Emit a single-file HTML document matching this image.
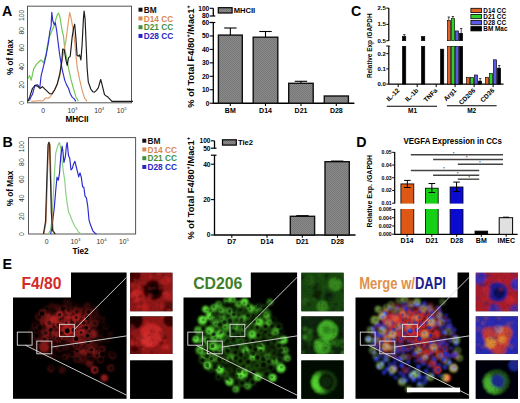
<!DOCTYPE html>
<html><head><meta charset="utf-8"><style>
html,body{margin:0;padding:0;background:#fff;}
body{width:520px;height:403px;overflow:hidden;}
svg{display:block;font-family:"Liberation Sans", sans-serif;}
</style></head><body>
<svg width="520" height="403" viewBox="0 0 520 403">
<rect width="520" height="403" fill="#fff"/>
<text x="1.9" y="15.6" font-size="14.2" font-weight="bold" fill="#000" text-anchor="start" >A</text>
<text x="2.6" y="146.7" font-size="14.2" font-weight="bold" fill="#000" text-anchor="start" >B</text>
<text x="351.0" y="16.0" font-size="14.2" font-weight="bold" fill="#000" text-anchor="start" >C</text>
<text x="356.3" y="147" font-size="14.2" font-weight="bold" fill="#000" text-anchor="start" >D</text>
<text x="2.6" y="269.1" font-size="14.2" font-weight="bold" fill="#000" text-anchor="start" >E</text>
<rect x="27.5" y="6.2" width="104.0" height="96.6" fill="none" stroke="#555" stroke-width="1" />
<text transform="translate(24.3,102.8) rotate(-90)" font-size="6.8"  fill="#333" text-anchor="middle" >0</text>
<text transform="translate(24.3,84.8) rotate(-90)" font-size="6.8"  fill="#333" text-anchor="middle" >20</text>
<text transform="translate(24.3,66.8) rotate(-90)" font-size="6.8"  fill="#333" text-anchor="middle" >40</text>
<text transform="translate(24.3,47.8) rotate(-90)" font-size="6.8"  fill="#333" text-anchor="middle" >60</text>
<text transform="translate(24.3,30.700000000000003) rotate(-90)" font-size="6.8"  fill="#333" text-anchor="middle" >80</text>
<text transform="translate(24.3,15.299999999999997) rotate(-90)" font-size="6.8"  fill="#333" text-anchor="middle" >100</text>
<text transform="translate(13.1,57.2) rotate(-90)" font-size="8.2" font-weight="bold" fill="#000" text-anchor="middle" >% of Max</text>
<text x="43.1" y="112.6" font-size="6.8"  fill="#333" text-anchor="middle" >0</text>
<text x="67.4" y="112.6" font-size="6.8" fill="#333">10<tspan font-size="4.3" dy="-2.7">3</tspan></text>
<text x="94.2" y="112.6" font-size="6.8" fill="#333">10<tspan font-size="4.3" dy="-2.7">4</tspan></text>
<text x="116.7" y="112.6" font-size="6.8" fill="#333">10<tspan font-size="4.3" dy="-2.7">5</tspan></text>
<text x="77" y="122.4" font-size="8.2" font-weight="bold" fill="#000" text-anchor="middle" >MHCII</text>
<polyline points="28.0,78.5 29.5,75.4 31.2,80.2 33.7,68.9 36.2,64.6 38.7,62.0 41.1,60.0 43.6,62.9 46.1,53.6 48.6,38.5 49.8,35.7 52.3,29.7 54.3,25.5 56.0,18.6 57.3,14.8 58.5,13.0 59.8,16.7 61.0,23.5 62.2,30.9 63.5,36.1 64.7,48.5 66.0,54.8 68.5,68.2 70.9,79.2 73.4,88.7 75.9,96.7 78.4,101.3" fill="none" stroke="#6cc850" stroke-width="1.15" stroke-linejoin="round"/>
<polyline points="31.2,101.3 32.7,101.2 34.1,101.1 35.6,101.0 37.0,100.9 38.5,100.7 39.9,100.6 41.6,101.0 43.2,100.6 44.9,98.6 46.5,97.8 48.2,98.3 49.8,97.3 51.5,94.7 53.1,91.6 54.8,89.6 56.5,85.5 58.1,81.3 59.8,76.4 62.2,59.5 64.7,47.0 66.0,40.2 67.2,30.7 68.5,20.7 69.7,12.5 70.9,17.3 72.2,24.4 73.4,31.5 74.7,41.4 75.9,54.6 77.1,66.8 79.6,79.3 82.1,90.1 84.6,98.2 87.1,101.3" fill="none" stroke="#e09a68" stroke-width="1.15" stroke-linejoin="round"/>
<polyline points="29.5,100.6 31.0,96.8 32.4,94.5 34.9,85.4 37.4,84.7 39.9,87.3 41.1,75.9 43.6,65.8 46.1,55.5 48.6,41.6 49.8,31.6 51.1,26.2 51.8,12.4 52.8,20.8 54.3,24.8 55.3,22.7 56.8,31.4 57.8,40.1 59.8,55.6 62.2,69.6 64.7,80.1 66.6,84.9 68.5,88.3 70.3,93.8 72.2,97.1 74.0,98.6 75.9,101.3" fill="none" stroke="#2e2ed0" stroke-width="1.15" stroke-linejoin="round"/>
<polyline points="28.0,101.3 30.0,96.2 32.4,88.5 34.9,85.5 37.4,86.1 39.9,88.4 42.4,86.7 44.9,89.2 47.3,91.4 49.8,93.8 52.3,93.7 54.8,89.5 57.3,83.9 59.8,73.7 61.8,61.2 62.7,49.0 64.2,49.5 66.0,60.4 67.2,65.3 68.5,57.9 70.2,56.4 72.2,36.8 73.7,27.7 74.7,24.2 75.9,38.1 77.1,55.6 78.4,56.2 79.6,54.9 80.9,60.0 82.1,44.7 83.4,19.1 84.1,11.1 85.1,18.9 86.1,43.3 87.1,68.0 88.3,82.1 90.8,89.0 92.7,91.7 94.5,92.1 96.4,90.3 98.3,87.8 100.7,79.5 102.0,84.3 104.5,94.6 106.3,96.1 108.2,97.3 110.1,99.3 111.9,101.3 113.2,101.3 114.6,101.3 115.9,101.3 117.2,101.3 118.5,101.3 119.8,101.3 121.1,101.3 122.5,101.3 123.8,101.3 125.1,101.3 126.4,101.3 127.7,101.3 129.1,101.3 130.4,101.3 131.7,101.3 133.0,101.3" fill="none" stroke="#1a1a1a" stroke-width="1.15" stroke-linejoin="round"/>
<rect x="138.5" y="7.700000000000001" width="4" height="4" fill="#111" stroke="none" stroke-width="1" />
<text x="143.7" y="12.8" font-size="8.3" font-weight="bold" fill="#111" text-anchor="start" >BM</text>
<rect x="138.5" y="16.45" width="4" height="4" fill="#d98850" stroke="none" stroke-width="1" />
<text x="143.7" y="21.55" font-size="8.3" font-weight="bold" fill="#d98850" text-anchor="start" >D14 CC</text>
<rect x="138.5" y="25.2" width="4" height="4" fill="#3f8f3f" stroke="none" stroke-width="1" />
<text x="143.7" y="30.3" font-size="8.3" font-weight="bold" fill="#3f8f3f" text-anchor="start" >D21 CC</text>
<rect x="138.5" y="33.949999999999996" width="4" height="4" fill="#2626c8" stroke="none" stroke-width="1" />
<text x="143.7" y="39.05" font-size="8.3" font-weight="bold" fill="#2626c8" text-anchor="start" >D28 CC</text>
<rect x="28.5" y="137.6" width="107.1" height="96.4" fill="none" stroke="#555" stroke-width="1" />
<text transform="translate(24.3,234.2) rotate(-90)" font-size="6.8"  fill="#333" text-anchor="middle" >0</text>
<text transform="translate(24.3,216.2) rotate(-90)" font-size="6.8"  fill="#333" text-anchor="middle" >20</text>
<text transform="translate(24.3,198.2) rotate(-90)" font-size="6.8"  fill="#333" text-anchor="middle" >40</text>
<text transform="translate(24.3,179.2) rotate(-90)" font-size="6.8"  fill="#333" text-anchor="middle" >60</text>
<text transform="translate(24.3,162.1) rotate(-90)" font-size="6.8"  fill="#333" text-anchor="middle" >80</text>
<text transform="translate(24.3,146.7) rotate(-90)" font-size="6.8"  fill="#333" text-anchor="middle" >100</text>
<text transform="translate(13.1,188.5) rotate(-90)" font-size="8.2" font-weight="bold" fill="#000" text-anchor="middle" >% of Max</text>
<text x="46.6" y="243.8" font-size="6.8"  fill="#333" text-anchor="middle" >0</text>
<text x="70.4" y="243.8" font-size="6.8" fill="#333">10<tspan font-size="4.3" dy="-2.7">3</tspan></text>
<text x="96.6" y="243.8" font-size="6.8" fill="#333">10<tspan font-size="4.3" dy="-2.7">4</tspan></text>
<text x="118.9" y="243.8" font-size="6.8" fill="#333">10<tspan font-size="4.3" dy="-2.7">5</tspan></text>
<text x="80.5" y="253.6" font-size="8.2" font-weight="bold" fill="#000" text-anchor="middle" >Tie2</text>
<polyline points="48.0,234.0 50.6,229.9 51.9,219.9 53.1,199.5 54.4,174.3 55.7,153.4 57.0,148.6 58.3,144.3 59.5,142.6 60.8,148.7 62.1,160.9 63.4,171.6 64.7,180.3 65.9,193.8 67.2,203.6 68.5,211.8 69.8,214.5 72.3,221.0 74.9,226.5 76.8,229.2 78.7,232.2 81.3,234.0" fill="none" stroke="#88d080" stroke-width="1.15" stroke-linejoin="round"/>
<polyline points="50.6,234.0 51.9,227.9 53.1,217.7 54.4,206.6 55.7,190.7 57.0,177.2 58.3,180.2 59.5,173.3 60.8,156.1 62.1,146.2 62.9,151.1 63.9,162.5 65.4,156.3 66.4,145.8 67.2,142.5 68.5,155.6 69.8,158.5 71.0,170.0 72.3,168.4 73.6,163.9 74.9,161.3 76.2,166.5 77.4,171.3 78.7,176.8 80.0,172.9 81.3,177.4 82.6,186.9 83.8,187.0 85.1,196.3 86.4,197.9 87.7,205.8 89.0,219.8 90.2,224.0 92.8,230.8 95.4,233.5 96.6,234.0" fill="none" stroke="#2828d0" stroke-width="1.15" stroke-linejoin="round"/>
<polyline points="43.9,234.0 46.0,221.8 47.5,173.0 48.5,145.4 49.3,142.2 50.1,145.3 50.8,173.2 51.9,211.3 53.1,230.9 55.7,234.0" fill="none" stroke="#c07848" stroke-width="1.15" stroke-linejoin="round"/>
<polyline points="43.4,234.0 45.5,221.7 47.0,173.8 48.0,144.9 48.8,142.4 49.6,144.8 50.3,173.1 51.3,212.2 52.6,230.6 55.2,234.0" fill="none" stroke="#2a2a2a" stroke-width="1.15" stroke-linejoin="round"/>
<rect x="142.3" y="138.70000000000002" width="4" height="4" fill="#111" stroke="none" stroke-width="1" />
<text x="147.5" y="143.8" font-size="8.3" font-weight="bold" fill="#111" text-anchor="start" >BM</text>
<rect x="142.3" y="147.45000000000002" width="4" height="4" fill="#d98850" stroke="none" stroke-width="1" />
<text x="147.5" y="152.55" font-size="8.3" font-weight="bold" fill="#d98850" text-anchor="start" >D14 CC</text>
<rect x="142.3" y="156.20000000000002" width="4" height="4" fill="#3f8f3f" stroke="none" stroke-width="1" />
<text x="147.5" y="161.3" font-size="8.3" font-weight="bold" fill="#3f8f3f" text-anchor="start" >D21 CC</text>
<rect x="142.3" y="164.95000000000002" width="4" height="4" fill="#2626c8" stroke="none" stroke-width="1" />
<text x="147.5" y="170.05" font-size="8.3" font-weight="bold" fill="#2626c8" text-anchor="start" >D28 CC</text>
<defs><pattern id="hatch" width="2" height="2" patternUnits="userSpaceOnUse"><rect width="2" height="2" fill="#8a8a8a"/><rect width="1" height="1" fill="#777"/><rect x="1" y="1" width="1" height="1" fill="#777"/></pattern></defs>
<line x1="213.3" y1="22.5" x2="213.3" y2="103.7" stroke="#000" stroke-width="1.3"/>
<line x1="209.70000000000002" y1="22.5" x2="215.3" y2="22.5" stroke="#000" stroke-width="1.2"/>
<line x1="209.70000000000002" y1="103.2" x2="213.3" y2="103.2" stroke="#000" stroke-width="1.1"/>
<text x="209.3" y="105.5" font-size="6.6" font-weight="bold" fill="#000" text-anchor="end" >0</text>
<line x1="209.70000000000002" y1="89.75" x2="213.3" y2="89.75" stroke="#000" stroke-width="1.1"/>
<text x="209.3" y="92.05" font-size="6.6" font-weight="bold" fill="#000" text-anchor="end" >10</text>
<line x1="209.70000000000002" y1="76.30000000000001" x2="213.3" y2="76.30000000000001" stroke="#000" stroke-width="1.1"/>
<text x="209.3" y="78.60000000000001" font-size="6.6" font-weight="bold" fill="#000" text-anchor="end" >20</text>
<line x1="209.70000000000002" y1="62.85" x2="213.3" y2="62.85" stroke="#000" stroke-width="1.1"/>
<text x="209.3" y="65.15" font-size="6.6" font-weight="bold" fill="#000" text-anchor="end" >30</text>
<line x1="209.70000000000002" y1="49.400000000000006" x2="213.3" y2="49.400000000000006" stroke="#000" stroke-width="1.1"/>
<text x="209.3" y="51.7" font-size="6.6" font-weight="bold" fill="#000" text-anchor="end" >40</text>
<line x1="209.70000000000002" y1="35.95" x2="213.3" y2="35.95" stroke="#000" stroke-width="1.1"/>
<text x="209.3" y="38.25" font-size="6.6" font-weight="bold" fill="#000" text-anchor="end" >50</text>
<line x1="209.70000000000002" y1="22.5" x2="213.3" y2="22.5" stroke="#000" stroke-width="1.1"/>
<text x="209.3" y="24.8" font-size="6.6" font-weight="bold" fill="#000" text-anchor="end" >60</text>
<line x1="213.3" y1="8.3" x2="213.3" y2="16" stroke="#000" stroke-width="1.3"/>
<line x1="209.70000000000002" y1="8.3" x2="213.3" y2="8.3" stroke="#000" stroke-width="1.1"/>
<line x1="209.70000000000002" y1="16" x2="215.3" y2="16" stroke="#000" stroke-width="1.2"/>
<text x="209.3" y="10.600000000000001" font-size="6.6" font-weight="bold" fill="#000" text-anchor="end" >100</text>
<text x="209.3" y="18.3" font-size="6.6" font-weight="bold" fill="#000" text-anchor="end" >80</text>
<line x1="213.3" y1="103.2" x2="354.4" y2="103.2" stroke="#000" stroke-width="1.4"/>
<rect x="218.4" y="35.1" width="23.900000000000006" height="68.1" fill="url(#hatch)" stroke="#111" stroke-width="1.4" />
<line x1="230.35000000000002" y1="28" x2="230.35000000000002" y2="35.1" stroke="#000" stroke-width="1.1"/>
<line x1="224.15000000000003" y1="28" x2="236.55" y2="28" stroke="#000" stroke-width="1.1"/>
<rect x="253.2" y="37.2" width="24.600000000000023" height="66.0" fill="url(#hatch)" stroke="#111" stroke-width="1.4" />
<line x1="265.5" y1="31.5" x2="265.5" y2="37.2" stroke="#000" stroke-width="1.1"/>
<line x1="259.3" y1="31.5" x2="271.7" y2="31.5" stroke="#000" stroke-width="1.1"/>
<rect x="288.7" y="83.3" width="24.5" height="19.900000000000006" fill="url(#hatch)" stroke="#111" stroke-width="1.4" />
<line x1="300.95" y1="81.3" x2="300.95" y2="83.3" stroke="#000" stroke-width="1.1"/>
<line x1="294.75" y1="81.3" x2="307.15" y2="81.3" stroke="#000" stroke-width="1.1"/>
<rect x="324.3" y="96" width="24.099999999999966" height="7.200000000000003" fill="url(#hatch)" stroke="#111" stroke-width="1.4" />
<line x1="230.3" y1="103.2" x2="230.3" y2="106.0" stroke="#000" stroke-width="1.1"/>
<text x="230.3" y="112.5" font-size="7" font-weight="bold" fill="#000" text-anchor="middle" >BM</text>
<line x1="265.5" y1="103.2" x2="265.5" y2="106.0" stroke="#000" stroke-width="1.1"/>
<text x="265.5" y="112.5" font-size="7" font-weight="bold" fill="#000" text-anchor="middle" >D14</text>
<line x1="301" y1="103.2" x2="301" y2="106.0" stroke="#000" stroke-width="1.1"/>
<text x="301" y="112.5" font-size="7" font-weight="bold" fill="#000" text-anchor="middle" >D21</text>
<line x1="336.3" y1="103.2" x2="336.3" y2="106.0" stroke="#000" stroke-width="1.1"/>
<text x="336.3" y="112.5" font-size="7" font-weight="bold" fill="#000" text-anchor="middle" >D28</text>
<rect x="218.3" y="7.7" width="13.8" height="5.3" fill="url(#hatch)" stroke="#000" stroke-width="1.2" />
<text x="233.70000000000002" y="13.2" font-size="7.6" font-weight="bold" fill="#000" text-anchor="start" >MHCII</text>
<text transform="translate(193.9,107.7) rotate(-90)" font-size="9.3" font-weight="bold">% of Total F4/80<tspan font-size="5.5" dy="-3.5">+</tspan><tspan dy="3.5">/Mac1</tspan><tspan font-size="5.5" dy="-3.5">+</tspan></text>
<line x1="214.5" y1="155.2" x2="214.5" y2="235.5" stroke="#000" stroke-width="1.3"/>
<line x1="210.9" y1="155.2" x2="216.5" y2="155.2" stroke="#000" stroke-width="1.2"/>
<line x1="210.9" y1="235.0" x2="214.5" y2="235.0" stroke="#000" stroke-width="1.1"/>
<text x="210.5" y="237.3" font-size="6.6" font-weight="bold" fill="#000" text-anchor="end" >0</text>
<line x1="210.9" y1="199.6" x2="214.5" y2="199.6" stroke="#000" stroke-width="1.1"/>
<text x="210.5" y="201.9" font-size="6.6" font-weight="bold" fill="#000" text-anchor="end" >20</text>
<line x1="210.9" y1="164.2" x2="214.5" y2="164.2" stroke="#000" stroke-width="1.1"/>
<text x="210.5" y="166.5" font-size="6.6" font-weight="bold" fill="#000" text-anchor="end" >40</text>
<line x1="214.5" y1="140.8" x2="214.5" y2="148.2" stroke="#000" stroke-width="1.3"/>
<line x1="210.9" y1="140.8" x2="214.5" y2="140.8" stroke="#000" stroke-width="1.1"/>
<line x1="210.9" y1="148.2" x2="216.5" y2="148.2" stroke="#000" stroke-width="1.2"/>
<text x="210.5" y="143.10000000000002" font-size="6.6" font-weight="bold" fill="#000" text-anchor="end" >100</text>
<text x="210.5" y="150.5" font-size="6.6" font-weight="bold" fill="#000" text-anchor="end" >50</text>
<line x1="214.5" y1="235" x2="355.5" y2="235" stroke="#000" stroke-width="1.4"/>
<rect x="290.3" y="216.3" width="24.30000000000001" height="18.69999999999999" fill="url(#hatch)" stroke="#111" stroke-width="1.4" />
<line x1="302.45000000000005" y1="215.7" x2="302.45000000000005" y2="216.3" stroke="#000" stroke-width="1.1"/>
<line x1="296.25000000000006" y1="215.7" x2="308.65000000000003" y2="215.7" stroke="#000" stroke-width="1.1"/>
<rect x="325" y="161.7" width="24.30000000000001" height="73.30000000000001" fill="url(#hatch)" stroke="#111" stroke-width="1.4" />
<line x1="337.15" y1="161.1" x2="337.15" y2="161.7" stroke="#000" stroke-width="1.1"/>
<line x1="330.95" y1="161.1" x2="343.34999999999997" y2="161.1" stroke="#000" stroke-width="1.1"/>
<line x1="231.8" y1="235" x2="231.8" y2="237.8" stroke="#000" stroke-width="1.1"/>
<text x="231.8" y="244.3" font-size="7" font-weight="bold" fill="#000" text-anchor="middle" >D7</text>
<line x1="267" y1="235" x2="267" y2="237.8" stroke="#000" stroke-width="1.1"/>
<text x="267" y="244.3" font-size="7" font-weight="bold" fill="#000" text-anchor="middle" >D14</text>
<line x1="302.3" y1="235" x2="302.3" y2="237.8" stroke="#000" stroke-width="1.1"/>
<text x="302.3" y="244.3" font-size="7" font-weight="bold" fill="#000" text-anchor="middle" >D21</text>
<line x1="337.5" y1="235" x2="337.5" y2="237.8" stroke="#000" stroke-width="1.1"/>
<text x="337.5" y="244.3" font-size="7" font-weight="bold" fill="#000" text-anchor="middle" >D28</text>
<rect x="222.5" y="139.8" width="13.8" height="5.3" fill="url(#hatch)" stroke="#000" stroke-width="1.2" />
<text x="237.9" y="145.3" font-size="7.6" font-weight="bold" fill="#000" text-anchor="start" >Tie2</text>
<text transform="translate(193.9,239.5) rotate(-90)" font-size="9.3" font-weight="bold">% of Total F4/80<tspan font-size="5.5" dy="-3.5">+</tspan><tspan dy="3.5">/Mac1</tspan><tspan font-size="5.5" dy="-3.5">+</tspan></text>
<line x1="388.8" y1="8.1" x2="388.8" y2="40.9" stroke="#000" stroke-width="1.2"/>
<line x1="388.8" y1="46.0" x2="388.8" y2="84.6" stroke="#000" stroke-width="1.2"/>
<line x1="386.3" y1="8.100000000000001" x2="388.8" y2="8.100000000000001" stroke="#000" stroke-width="1"/>
<text x="385.8" y="10.100000000000001" font-size="6" font-weight="bold" fill="#000" text-anchor="end" >2.5</text>
<line x1="386.3" y1="24.400000000000002" x2="388.8" y2="24.400000000000002" stroke="#000" stroke-width="1"/>
<text x="385.8" y="26.400000000000002" font-size="6" font-weight="bold" fill="#000" text-anchor="end" >1.5</text>
<line x1="386.3" y1="40.7" x2="388.8" y2="40.7" stroke="#000" stroke-width="1"/>
<text x="385.8" y="42.7" font-size="6" font-weight="bold" fill="#000" text-anchor="end" >0.5</text>
<line x1="386.3" y1="53.69999999999999" x2="388.8" y2="53.69999999999999" stroke="#000" stroke-width="1"/>
<text x="385.8" y="55.69999999999999" font-size="6" font-weight="bold" fill="#000" text-anchor="end" >0.2</text>
<line x1="386.3" y1="68.89999999999999" x2="388.8" y2="68.89999999999999" stroke="#000" stroke-width="1"/>
<text x="385.8" y="70.89999999999999" font-size="6" font-weight="bold" fill="#000" text-anchor="end" >0.1</text>
<line x1="386.3" y1="84.1" x2="388.8" y2="84.1" stroke="#000" stroke-width="1"/>
<text x="385.8" y="86.1" font-size="6" font-weight="bold" fill="#000" text-anchor="end" >0.0</text>
<line x1="386.3" y1="46.0" x2="390.3" y2="46.0" stroke="#000" stroke-width="1"/>
<line x1="388.8" y1="84.1" x2="503.5" y2="84.1" stroke="#000" stroke-width="1.2"/>
<text transform="translate(371.5,45.8) rotate(-90)" font-size="6.4" font-weight="bold" fill="#000" text-anchor="middle" >Relative Exp /GAPDH</text>
<rect x="402.4" y="46.2" width="3.4" height="37.89999999999999" fill="#000" stroke="#000" stroke-width="0.6" />
<rect x="402.4" y="36.462" width="3.4" height="4.2379999999999995" fill="#000" stroke="#000" stroke-width="0.6" />
<rect x="421.4" y="46.2" width="3.4" height="37.89999999999999" fill="#000" stroke="#000" stroke-width="0.6" />
<rect x="421.4" y="36.462" width="3.4" height="4.2379999999999995" fill="#000" stroke="#000" stroke-width="0.6" />
<rect x="440.4" y="49.13999999999999" width="3.4" height="34.96" fill="#000" stroke="#000" stroke-width="0.6" />
<rect x="447.3" y="46.2" width="3.4" height="37.89999999999999" fill="#e0642a" stroke="#000" stroke-width="0.6" />
<rect x="447.3" y="20.325000000000003" width="3.4" height="20.375" fill="#e0642a" stroke="#000" stroke-width="0.6" />
<rect x="451.3" y="46.2" width="3.4" height="37.89999999999999" fill="#2ed02e" stroke="#000" stroke-width="0.6" />
<rect x="451.3" y="18.695" width="3.4" height="22.005000000000003" fill="#2ed02e" stroke="#000" stroke-width="0.6" />
<rect x="455.3" y="46.2" width="3.4" height="37.89999999999999" fill="#5a5ae6" stroke="#000" stroke-width="0.6" />
<rect x="455.3" y="30.92" width="3.4" height="9.780000000000001" fill="#5a5ae6" stroke="#000" stroke-width="0.6" />
<rect x="459.3" y="46.2" width="3.4" height="37.89999999999999" fill="#000" stroke="#000" stroke-width="0.6" />
<rect x="459.3" y="33.365" width="3.4" height="7.335000000000001" fill="#000" stroke="#000" stroke-width="0.6" />
<rect x="466.3" y="77.25999999999999" width="3.4" height="6.840000000000003" fill="#e0642a" stroke="#000" stroke-width="0.6" />
<rect x="470.3" y="77.564" width="3.4" height="6.536000000000001" fill="#2ed02e" stroke="#000" stroke-width="0.6" />
<rect x="474.3" y="74.97999999999999" width="3.4" height="9.120000000000005" fill="#5a5ae6" stroke="#000" stroke-width="0.6" />
<rect x="478.3" y="81.05999999999999" width="3.4" height="3.0400000000000063" fill="#000" stroke="#000" stroke-width="0.6" />
<rect x="485.3" y="77.25999999999999" width="3.4" height="6.840000000000003" fill="#e0642a" stroke="#000" stroke-width="0.6" />
<rect x="489.3" y="73.46" width="3.4" height="10.64" fill="#2ed02e" stroke="#000" stroke-width="0.6" />
<rect x="493.3" y="59.779999999999994" width="3.4" height="24.32" fill="#5a5ae6" stroke="#000" stroke-width="0.6" />
<rect x="497.3" y="68.14" width="3.4" height="15.959999999999994" fill="#000" stroke="#000" stroke-width="0.6" />
<rect x="389.5" y="41.0" width="115" height="5.0" fill="#fff" stroke="none" stroke-width="1" />
<line x1="398.2" y1="84.1" x2="398.2" y2="87.1" stroke="#000" stroke-width="1"/>
<line x1="417.2" y1="84.1" x2="417.2" y2="87.1" stroke="#000" stroke-width="1"/>
<line x1="436.2" y1="84.1" x2="436.2" y2="87.1" stroke="#000" stroke-width="1"/>
<line x1="455.1" y1="84.1" x2="455.1" y2="87.1" stroke="#000" stroke-width="1"/>
<line x1="474.1" y1="84.1" x2="474.1" y2="87.1" stroke="#000" stroke-width="1"/>
<line x1="493.1" y1="84.1" x2="493.1" y2="87.1" stroke="#000" stroke-width="1"/>
<line x1="404.3" y1="34.6" x2="404.3" y2="36.5" stroke="#000" stroke-width="0.7"/>
<line x1="403.1" y1="34.6" x2="405.5" y2="34.6" stroke="#000" stroke-width="0.7"/>
<line x1="448.8" y1="17" x2="448.8" y2="19.9" stroke="#000" stroke-width="0.7"/>
<line x1="447.6" y1="17" x2="450.0" y2="17" stroke="#000" stroke-width="0.7"/>
<line x1="452.9" y1="16.5" x2="452.9" y2="18.2" stroke="#000" stroke-width="0.7"/>
<line x1="451.7" y1="16.5" x2="454.09999999999997" y2="16.5" stroke="#000" stroke-width="0.7"/>
<line x1="461.2" y1="28.5" x2="461.2" y2="33.7" stroke="#000" stroke-width="0.7"/>
<line x1="460.0" y1="28.5" x2="462.4" y2="28.5" stroke="#000" stroke-width="0.7"/>
<line x1="480.2" y1="78.5" x2="480.2" y2="81.1" stroke="#000" stroke-width="0.7"/>
<line x1="479.0" y1="78.5" x2="481.4" y2="78.5" stroke="#000" stroke-width="0.7"/>
<line x1="499.2" y1="65.5" x2="499.2" y2="68.4" stroke="#000" stroke-width="0.7"/>
<line x1="498.0" y1="65.5" x2="500.4" y2="65.5" stroke="#000" stroke-width="0.7"/>
<text transform="translate(399.8,91.0) rotate(-45)" font-size="6.5" font-weight="bold" fill="#000" text-anchor="end" >IL-12</text>
<text transform="translate(418.8,91.0) rotate(-45)" font-size="6.5" font-weight="bold" fill="#000" text-anchor="end" >IL-1b</text>
<text transform="translate(437.8,91.0) rotate(-45)" font-size="6.5" font-weight="bold" fill="#000" text-anchor="end" >TNFa</text>
<text transform="translate(456.70000000000005,91.0) rotate(-45)" font-size="6.5" font-weight="bold" fill="#000" text-anchor="end" >Arg1</text>
<text transform="translate(475.70000000000005,91.0) rotate(-45)" font-size="6.5" font-weight="bold" fill="#000" text-anchor="end" >CD206</text>
<text transform="translate(494.70000000000005,91.0) rotate(-45)" font-size="6.5" font-weight="bold" fill="#000" text-anchor="end" >CD36</text>
<line x1="386.8" y1="106.2" x2="437" y2="106.2" stroke="#000" stroke-width="1.1"/>
<line x1="446.9" y1="105.8" x2="496.6" y2="105.8" stroke="#000" stroke-width="1.1"/>
<text x="412.6" y="112.6" font-size="6.5" font-weight="bold" fill="#000" text-anchor="middle" >M1</text>
<text x="471.7" y="112.6" font-size="6.5" font-weight="bold" fill="#000" text-anchor="middle" >M2</text>
<rect x="470.9" y="8.3" width="10.6" height="4.3" fill="#e0642a" stroke="#000" stroke-width="0.8" />
<text x="483.3" y="12.700000000000001" font-size="6.4" font-weight="bold" fill="#000" text-anchor="start" >D14 CC</text>
<rect x="470.9" y="14.4" width="10.6" height="4.3" fill="#2ed02e" stroke="#000" stroke-width="0.8" />
<text x="483.3" y="18.8" font-size="6.4" font-weight="bold" fill="#000" text-anchor="start" >D21 CC</text>
<rect x="470.9" y="20.5" width="10.6" height="4.3" fill="#5a5ae6" stroke="#000" stroke-width="0.8" />
<text x="483.3" y="24.9" font-size="6.4" font-weight="bold" fill="#000" text-anchor="start" >D28 CC</text>
<rect x="470.9" y="26.599999999999998" width="10.6" height="4.3" fill="#000" stroke="#000" stroke-width="0.8" />
<text x="483.3" y="31.0" font-size="6.4" font-weight="bold" fill="#000" text-anchor="start" >BM Mac</text>
<text transform="translate(403.6,144.2) scale(1,1.12)" font-size="7.9" font-weight="bold">VEGFA Expression in CCs</text>
<line x1="394.7" y1="152" x2="394.7" y2="203.4" stroke="#000" stroke-width="1.2"/>
<line x1="394.7" y1="208.8" x2="394.7" y2="234.7" stroke="#000" stroke-width="1.2"/>
<line x1="392.2" y1="152.32" x2="394.7" y2="152.32" stroke="#000" stroke-width="1"/>
<text x="391.7" y="154.12" font-size="5.2" font-weight="bold" fill="#000" text-anchor="end" >0.05</text>
<line x1="392.2" y1="165.04" x2="394.7" y2="165.04" stroke="#000" stroke-width="1"/>
<text x="391.7" y="166.84" font-size="5.2" font-weight="bold" fill="#000" text-anchor="end" >0.04</text>
<line x1="392.2" y1="177.76" x2="394.7" y2="177.76" stroke="#000" stroke-width="1"/>
<text x="391.7" y="179.56" font-size="5.2" font-weight="bold" fill="#000" text-anchor="end" >0.03</text>
<line x1="392.2" y1="190.48" x2="394.7" y2="190.48" stroke="#000" stroke-width="1"/>
<text x="391.7" y="192.28" font-size="5.2" font-weight="bold" fill="#000" text-anchor="end" >0.02</text>
<line x1="392.2" y1="203.2" x2="394.7" y2="203.2" stroke="#000" stroke-width="1"/>
<text x="391.7" y="205.0" font-size="5.2" font-weight="bold" fill="#000" text-anchor="end" >0.01</text>
<line x1="392.2" y1="209.54" x2="394.7" y2="209.54" stroke="#000" stroke-width="1"/>
<text x="391.7" y="211.34" font-size="5.2" font-weight="bold" fill="#000" text-anchor="end" >0.006</text>
<line x1="392.2" y1="217.76" x2="394.7" y2="217.76" stroke="#000" stroke-width="1"/>
<text x="391.7" y="219.56" font-size="5.2" font-weight="bold" fill="#000" text-anchor="end" >0.004</text>
<line x1="392.2" y1="225.98" x2="394.7" y2="225.98" stroke="#000" stroke-width="1"/>
<text x="391.7" y="227.78" font-size="5.2" font-weight="bold" fill="#000" text-anchor="end" >0.002</text>
<line x1="392.2" y1="234.2" x2="394.7" y2="234.2" stroke="#000" stroke-width="1"/>
<text x="391.7" y="236.0" font-size="5.2" font-weight="bold" fill="#000" text-anchor="end" >0.000</text>
<line x1="394.7" y1="234.3" x2="517.7" y2="234.3" stroke="#000" stroke-width="1.3"/>
<rect x="400.9" y="183.9" width="12.900000000000034" height="50.400000000000006" fill="#dc5814" stroke="#000" stroke-width="0.8" />
<line x1="407.35" y1="180.4" x2="407.35" y2="187.5" stroke="#000" stroke-width="1"/>
<line x1="404.05" y1="180.4" x2="410.65000000000003" y2="180.4" stroke="#000" stroke-width="1"/>
<line x1="404.05" y1="187.5" x2="410.65000000000003" y2="187.5" stroke="#000" stroke-width="1"/>
<rect x="425.5" y="188.2" width="12.699999999999989" height="46.10000000000002" fill="#16d016" stroke="#000" stroke-width="0.8" />
<line x1="431.85" y1="183.5" x2="431.85" y2="192.5" stroke="#000" stroke-width="1"/>
<line x1="428.55" y1="183.5" x2="435.15000000000003" y2="183.5" stroke="#000" stroke-width="1"/>
<line x1="428.55" y1="192.5" x2="435.15000000000003" y2="192.5" stroke="#000" stroke-width="1"/>
<rect x="450.1" y="187" width="12.899999999999977" height="47.30000000000001" fill="#0a0ad0" stroke="#000" stroke-width="0.8" />
<line x1="456.55" y1="182.1" x2="456.55" y2="191.5" stroke="#000" stroke-width="1"/>
<line x1="453.25" y1="182.1" x2="459.85" y2="182.1" stroke="#000" stroke-width="1"/>
<line x1="453.25" y1="191.5" x2="459.85" y2="191.5" stroke="#000" stroke-width="1"/>
<rect x="398" y="203.6" width="70" height="5.4" fill="#fff" stroke="none" stroke-width="1" />
<rect x="475" y="231.1" width="12.7" height="3.2" fill="#000" stroke="#000" stroke-width="0.8" />
<rect x="499.2" y="217.7" width="13.4" height="16.6" fill="#e0e0e0" stroke="#000" stroke-width="1" />
<line x1="503" y1="217.2" x2="509" y2="217.2" stroke="#000" stroke-width="1"/>
<line x1="407" y1="234.3" x2="407" y2="236.8" stroke="#000" stroke-width="1"/>
<text x="407" y="242.6" font-size="7" font-weight="bold" fill="#000" text-anchor="middle" >D14</text>
<line x1="431.8" y1="234.3" x2="431.8" y2="236.8" stroke="#000" stroke-width="1"/>
<text x="431.8" y="242.6" font-size="7" font-weight="bold" fill="#000" text-anchor="middle" >D21</text>
<line x1="456.7" y1="234.3" x2="456.7" y2="236.8" stroke="#000" stroke-width="1"/>
<text x="456.7" y="242.6" font-size="7" font-weight="bold" fill="#000" text-anchor="middle" >D28</text>
<line x1="481.3" y1="234.3" x2="481.3" y2="236.8" stroke="#000" stroke-width="1"/>
<text x="481.3" y="242.6" font-size="7" font-weight="bold" fill="#000" text-anchor="middle" >BM</text>
<line x1="506.2" y1="234.3" x2="506.2" y2="236.8" stroke="#000" stroke-width="1"/>
<text x="506.2" y="242.6" font-size="7" font-weight="bold" fill="#000" text-anchor="middle" >IMEC</text>
<text transform="translate(371.9,191.2) rotate(-90)" font-size="7.0" font-weight="bold" fill="#000" text-anchor="middle" >Relative Exp. /GAPDH</text>
<line x1="410.8" y1="154.8" x2="503" y2="154.8" stroke="#444" stroke-width="1.4"/>
<text x="453.8" y="154.60000000000002" font-size="3.6" font-weight="bold" fill="#333" text-anchor="middle" >*</text>
<line x1="433.1" y1="159.5" x2="503" y2="159.5" stroke="#444" stroke-width="1.4"/>
<text x="466.8" y="159.3" font-size="3.6" font-weight="bold" fill="#333" text-anchor="middle" >*</text>
<line x1="457.8" y1="164.2" x2="503" y2="164.2" stroke="#444" stroke-width="1.4"/>
<text x="479.9" y="164.0" font-size="3.6" font-weight="bold" fill="#333" text-anchor="middle" >*</text>
<line x1="410.8" y1="170.5" x2="479.2" y2="170.5" stroke="#444" stroke-width="1.4"/>
<text x="443.9" y="170.3" font-size="3.6" font-weight="bold" fill="#333" text-anchor="middle" >*</text>
<line x1="433.1" y1="175.2" x2="479.2" y2="175.2" stroke="#444" stroke-width="1.4"/>
<text x="457.8" y="175.0" font-size="3.6" font-weight="bold" fill="#333" text-anchor="middle" >*</text>
<line x1="457.8" y1="179.2" x2="479.2" y2="179.2" stroke="#444" stroke-width="1.4"/>
<text x="469.1" y="179.0" font-size="3.6" font-weight="bold" fill="#333" text-anchor="middle" >*</text>
<defs>
<filter id="fR" x="-10%" y="-10%" width="120%" height="120%">
<feTurbulence type="fractalNoise" baseFrequency="0.4" numOctaves="2" seed="4" result="t"/>
<feColorMatrix in="t" type="matrix" values="0 0 0 0 0  0 0 0 0 0  0 0 0 0 0  1.6 0 0 0 0.25" result="m"/>
<feComposite in="SourceGraphic" in2="m" operator="in" result="c"/>
<feGaussianBlur in="c" stdDeviation="0.85"/>
</filter>
<filter id="fCloud" x="-20%" y="-20%" width="140%" height="140%">
<feGaussianBlur in="SourceGraphic" stdDeviation="3" result="b"/>
<feTurbulence type="fractalNoise" baseFrequency="0.3" numOctaves="2" seed="12" result="t"/>
<feColorMatrix in="t" type="matrix" values="0 0 0 0 0  0 0 0 0 0  0 0 0 0 0  2.0 0 0 0 -0.2" result="m"/>
<feComposite in="b" in2="m" operator="in" result="c"/>
<feGaussianBlur in="c" stdDeviation="0.6"/>
</filter>
<filter id="fH" x="-10%" y="-10%" width="120%" height="120%"><feGaussianBlur stdDeviation="0.7"/></filter>
<filter id="fI" x="0" y="0" width="100%" height="100%">
<feGaussianBlur in="SourceGraphic" stdDeviation="1.3" result="b"/>
<feTurbulence type="fractalNoise" baseFrequency="0.55" numOctaves="2" seed="9" result="t"/>
<feColorMatrix in="t" type="matrix" values="0 0 0 0 0  0 0 0 0 0  0 0 0 0 0  0.9 0 0 0 0.62" result="m"/>
<feComposite in="b" in2="m" operator="in" result="c"/>
<feGaussianBlur in="c" stdDeviation="0.6"/>
</filter>

<mask id="mHoles" maskUnits="userSpaceOnUse" x="-50" y="250" width="250" height="160"><rect x="-50" y="250" width="250" height="160" fill="#fff"/><g filter="url(#fH)"><circle cx="94.4" cy="340.1" r="1.4" fill="rgb(78,78,78)"/><circle cx="22.0" cy="325.2" r="2.1" fill="rgb(76,76,76)"/><circle cx="60.7" cy="304.5" r="2.3" fill="rgb(75,75,75)"/><circle cx="58.9" cy="353.8" r="2.2" fill="rgb(73,73,73)"/><circle cx="53.3" cy="323.0" r="1.5" fill="rgb(70,70,70)"/><circle cx="87.8" cy="359.5" r="2.3" fill="rgb(27,27,27)"/><circle cx="87.9" cy="332.2" r="2.2" fill="rgb(72,72,72)"/><circle cx="81.9" cy="323.4" r="2.0" fill="rgb(115,115,115)"/><circle cx="63.3" cy="338.8" r="2.2" fill="rgb(31,31,31)"/><circle cx="23.3" cy="335.7" r="2.2" fill="rgb(49,49,49)"/><circle cx="32.8" cy="332.8" r="1.9" fill="rgb(123,123,123)"/><circle cx="89.5" cy="353.9" r="2.5" fill="rgb(35,35,35)"/><circle cx="45.5" cy="338.5" r="2.1" fill="rgb(117,117,117)"/><circle cx="28.9" cy="313.7" r="2.4" fill="rgb(33,33,33)"/><circle cx="49.9" cy="308.8" r="2.2" fill="rgb(50,50,50)"/><circle cx="65.2" cy="324.3" r="2.4" fill="rgb(115,115,115)"/><circle cx="63.8" cy="311.8" r="1.5" fill="rgb(100,100,100)"/><circle cx="77.8" cy="359.1" r="2.4" fill="rgb(103,103,103)"/><circle cx="44.3" cy="359.0" r="2.2" fill="rgb(66,66,66)"/><circle cx="89.1" cy="349.2" r="1.4" fill="rgb(64,64,64)"/><circle cx="68.1" cy="332.4" r="1.5" fill="rgb(67,67,67)"/><circle cx="64.0" cy="351.2" r="1.4" fill="rgb(37,37,37)"/><circle cx="78.5" cy="349.8" r="1.5" fill="rgb(30,30,30)"/><circle cx="74.9" cy="342.2" r="2.1" fill="rgb(49,49,49)"/><circle cx="26.0" cy="342.1" r="1.6" fill="rgb(39,39,39)"/><circle cx="74.4" cy="317.4" r="2.5" fill="rgb(50,50,50)"/><circle cx="37.9" cy="329.8" r="1.9" fill="rgb(76,76,76)"/><circle cx="47.2" cy="348.2" r="2.2" fill="rgb(70,70,70)"/><circle cx="63.2" cy="317.4" r="1.5" fill="rgb(90,90,90)"/><circle cx="37.8" cy="340.4" r="2.0" fill="rgb(58,58,58)"/><circle cx="73.2" cy="327.7" r="2.0" fill="rgb(62,62,62)"/><circle cx="88.4" cy="320.5" r="1.4" fill="rgb(74,74,74)"/><circle cx="93.7" cy="326.2" r="2.1" fill="rgb(119,119,119)"/><circle cx="62.2" cy="344.3" r="1.4" fill="rgb(51,51,51)"/><circle cx="45.5" cy="325.1" r="2.3" fill="rgb(119,119,119)"/><circle cx="51.7" cy="357.2" r="1.3" fill="rgb(47,47,47)"/><circle cx="48.8" cy="333.0" r="2.1" fill="rgb(120,120,120)"/><circle cx="98.6" cy="354.2" r="2.2" fill="rgb(109,109,109)"/><circle cx="46.6" cy="314.7" r="1.7" fill="rgb(79,79,79)"/><circle cx="19.1" cy="339.7" r="1.8" fill="rgb(60,60,60)"/><circle cx="40.4" cy="346.9" r="1.6" fill="rgb(64,64,64)"/><circle cx="64.5" cy="359.0" r="2.1" fill="rgb(107,107,107)"/><circle cx="31.5" cy="339.3" r="1.7" fill="rgb(104,104,104)"/><circle cx="59.5" cy="322.9" r="1.9" fill="rgb(81,81,81)"/><circle cx="75.8" cy="312.2" r="1.9" fill="rgb(57,57,57)"/><circle cx="37.3" cy="353.6" r="1.7" fill="rgb(84,84,84)"/><circle cx="19.0" cy="332.9" r="2.4" fill="rgb(45,45,45)"/><circle cx="74.5" cy="335.7" r="1.9" fill="rgb(34,34,34)"/><circle cx="36.3" cy="322.8" r="2.2" fill="rgb(125,125,125)"/><circle cx="60.6" cy="330.0" r="2.3" fill="rgb(58,58,58)"/><circle cx="26.9" cy="327.8" r="2.5" fill="rgb(60,60,60)"/><circle cx="88.5" cy="339.3" r="1.5" fill="rgb(82,82,82)"/><circle cx="25.6" cy="349.9" r="1.7" fill="rgb(118,118,118)"/><circle cx="82.6" cy="308.3" r="1.8" fill="rgb(125,125,125)"/><circle cx="33.9" cy="308.6" r="1.5" fill="rgb(62,62,62)"/><circle cx="26.2" cy="317.1" r="2.0" fill="rgb(84,84,84)"/><circle cx="70.7" cy="322.6" r="1.9" fill="rgb(99,99,99)"/><circle cx="82.1" cy="370.0" r="1.9" fill="rgb(67,67,67)"/><circle cx="97.9" cy="368.1" r="2.2" fill="rgb(110,110,110)"/><circle cx="38.7" cy="368.0" r="2.0" fill="rgb(118,118,118)"/><circle cx="84.2" cy="355.3" r="1.9" fill="rgb(102,102,102)"/><circle cx="99.9" cy="355.8" r="1.8" fill="rgb(80,80,80)"/><circle cx="54.2" cy="330.8" r="2.5" fill="rgb(0,0,0)"/></g></mask>
<g id="cR" mask="url(#mHoles)"><g filter="url(#fCloud)"><ellipse cx="50" cy="324" rx="19" ry="15" fill="#d42828" fill-opacity="0.36"/><ellipse cx="66" cy="330" rx="18" ry="17" fill="#d42828" fill-opacity="0.36"/><ellipse cx="40" cy="340" rx="9" ry="10" fill="#d42828" fill-opacity="0.24"/><ellipse cx="74" cy="352" rx="14" ry="9" fill="#d42828" fill-opacity="0.24"/><ellipse cx="62" cy="316" rx="18" ry="9" fill="#d42828" fill-opacity="0.28"/><ellipse cx="34" cy="328" rx="6" ry="10" fill="#d42828" fill-opacity="0.24"/></g><g filter="url(#fR)"><circle cx="53.3" cy="347.6" r="3.6" fill="#d82828" fill-opacity="0.18"/><circle cx="94.8" cy="339.6" r="3.7" fill="#d82828" fill-opacity="0.11"/><circle cx="21.8" cy="325.8" r="3.3" fill="#d82828" fill-opacity="0.29"/><circle cx="71.0" cy="352.3" r="3.5" fill="#d82828" fill-opacity="0.49"/><circle cx="60.0" cy="305.1" r="3.7" fill="#d82828" fill-opacity="0.17"/><circle cx="30.2" cy="320.6" r="3.9" fill="#d82828" fill-opacity="0.42"/><circle cx="59.2" cy="354.4" r="3.2" fill="#d82828" fill-opacity="0.24"/><circle cx="53.7" cy="323.6" r="3.4" fill="#d82828" fill-opacity="0.59"/><circle cx="87.4" cy="360.2" r="3.5" fill="#d82828" fill-opacity="0.25"/><circle cx="41.2" cy="319.5" r="3.7" fill="#d82828" fill-opacity="0.74"/><circle cx="38.9" cy="306.0" r="3.8" fill="#d82828" fill-opacity="0.18"/><circle cx="80.9" cy="334.0" r="3.9" fill="#d82828" fill-opacity="0.50"/><circle cx="88.0" cy="332.9" r="3.3" fill="#d82828" fill-opacity="0.12"/><circle cx="82.0" cy="322.9" r="3.4" fill="#d82828" fill-opacity="0.37"/><circle cx="83.6" cy="315.1" r="3.4" fill="#d82828" fill-opacity="0.19"/><circle cx="62.7" cy="338.0" r="3.9" fill="#d82828" fill-opacity="0.46"/><circle cx="23.8" cy="335.8" r="4.0" fill="#d82828" fill-opacity="0.18"/><circle cx="32.0" cy="333.5" r="4.0" fill="#d82828" fill-opacity="0.35"/><circle cx="88.7" cy="354.6" r="3.7" fill="#d82828" fill-opacity="0.24"/><circle cx="46.2" cy="338.5" r="3.6" fill="#d82828" fill-opacity="0.30"/><circle cx="29.6" cy="313.1" r="4.0" fill="#d82828" fill-opacity="0.38"/><circle cx="35.5" cy="316.1" r="3.5" fill="#d82828" fill-opacity="0.54"/><circle cx="50.6" cy="308.8" r="3.8" fill="#d82828" fill-opacity="0.23"/><circle cx="66.0" cy="324.9" r="3.1" fill="#d82828" fill-opacity="0.60"/><circle cx="63.9" cy="311.2" r="3.9" fill="#d82828" fill-opacity="0.23"/><circle cx="20.1" cy="346.4" r="3.4" fill="#d82828" fill-opacity="0.13"/><circle cx="78.4" cy="359.8" r="3.3" fill="#d82828" fill-opacity="0.10"/><circle cx="44.5" cy="358.2" r="3.2" fill="#d82828" fill-opacity="0.15"/><circle cx="89.5" cy="348.7" r="3.4" fill="#d82828" fill-opacity="0.29"/><circle cx="68.5" cy="332.5" r="3.4" fill="#d82828" fill-opacity="0.73"/><circle cx="64.8" cy="351.8" r="3.7" fill="#d82828" fill-opacity="0.25"/><circle cx="78.2" cy="349.4" r="3.7" fill="#d82828" fill-opacity="0.35"/><circle cx="75.0" cy="342.3" r="3.7" fill="#d82828" fill-opacity="0.27"/><circle cx="25.5" cy="342.2" r="3.6" fill="#d82828" fill-opacity="0.31"/><circle cx="68.6" cy="342.0" r="3.6" fill="#d82828" fill-opacity="0.31"/><circle cx="53.5" cy="302.1" r="3.7" fill="#d82828" fill-opacity="0.16"/><circle cx="73.7" cy="316.9" r="3.5" fill="#d82828" fill-opacity="0.42"/><circle cx="55.3" cy="315.2" r="3.7" fill="#d82828" fill-opacity="0.37"/><circle cx="37.5" cy="329.4" r="3.2" fill="#d82828" fill-opacity="0.15"/><circle cx="46.7" cy="348.3" r="3.6" fill="#d82828" fill-opacity="0.24"/><circle cx="70.0" cy="361.0" r="3.6" fill="#d82828" fill-opacity="0.17"/><circle cx="63.9" cy="317.1" r="3.8" fill="#d82828" fill-opacity="0.44"/><circle cx="74.3" cy="305.6" r="3.3" fill="#d82828" fill-opacity="0.21"/><circle cx="37.2" cy="340.2" r="3.7" fill="#d82828" fill-opacity="0.21"/><circle cx="74.0" cy="327.4" r="3.4" fill="#d82828" fill-opacity="0.38"/><circle cx="31.5" cy="353.7" r="3.9" fill="#d82828" fill-opacity="0.11"/><circle cx="88.9" cy="319.8" r="3.7" fill="#d82828" fill-opacity="0.15"/><circle cx="92.9" cy="326.8" r="3.3" fill="#d82828" fill-opacity="0.14"/><circle cx="62.0" cy="343.8" r="3.3" fill="#d82828" fill-opacity="0.31"/><circle cx="45.7" cy="324.3" r="3.3" fill="#d82828" fill-opacity="0.76"/><circle cx="52.5" cy="356.8" r="3.4" fill="#d82828" fill-opacity="0.27"/><circle cx="82.0" cy="345.1" r="3.8" fill="#d82828" fill-opacity="0.18"/><circle cx="82.5" cy="353.1" r="3.5" fill="#d82828" fill-opacity="0.25"/><circle cx="41.5" cy="334.0" r="3.9" fill="#d82828" fill-opacity="0.29"/><circle cx="48.3" cy="332.9" r="3.9" fill="#d82828" fill-opacity="0.13"/><circle cx="97.8" cy="354.4" r="3.5" fill="#d82828" fill-opacity="0.15"/><circle cx="46.5" cy="314.3" r="3.3" fill="#d82828" fill-opacity="0.68"/><circle cx="19.0" cy="339.0" r="3.7" fill="#d82828" fill-opacity="0.10"/><circle cx="40.9" cy="346.6" r="3.4" fill="#d82828" fill-opacity="0.13"/><circle cx="55.7" cy="339.8" r="3.6" fill="#d82828" fill-opacity="0.15"/><circle cx="64.2" cy="359.3" r="3.7" fill="#d82828" fill-opacity="0.27"/><circle cx="31.1" cy="339.8" r="3.9" fill="#d82828" fill-opacity="0.39"/><circle cx="59.2" cy="322.4" r="3.8" fill="#d82828" fill-opacity="0.17"/><circle cx="76.3" cy="311.5" r="3.6" fill="#d82828" fill-opacity="0.29"/><circle cx="37.9" cy="354.4" r="3.7" fill="#d82828" fill-opacity="0.18"/><circle cx="18.8" cy="332.6" r="3.5" fill="#d82828" fill-opacity="0.17"/><circle cx="74.0" cy="335.6" r="3.3" fill="#d82828" fill-opacity="0.35"/><circle cx="97.1" cy="334.2" r="3.3" fill="#d82828" fill-opacity="0.13"/><circle cx="35.7" cy="323.0" r="3.8" fill="#d82828" fill-opacity="0.62"/><circle cx="59.9" cy="330.1" r="3.9" fill="#d82828" fill-opacity="0.57"/><circle cx="27.6" cy="328.1" r="3.6" fill="#d82828" fill-opacity="0.20"/><circle cx="87.9" cy="339.5" r="3.8" fill="#d82828" fill-opacity="0.17"/><circle cx="69.8" cy="309.4" r="3.2" fill="#d82828" fill-opacity="0.13"/><circle cx="25.6" cy="350.2" r="3.2" fill="#d82828" fill-opacity="0.19"/><circle cx="44.6" cy="307.0" r="3.4" fill="#d82828" fill-opacity="0.20"/><circle cx="82.1" cy="308.8" r="3.6" fill="#d82828" fill-opacity="0.18"/><circle cx="33.9" cy="308.7" r="3.4" fill="#d82828" fill-opacity="0.14"/><circle cx="25.5" cy="317.1" r="3.7" fill="#d82828" fill-opacity="0.28"/><circle cx="71.4" cy="322.2" r="3.3" fill="#d82828" fill-opacity="0.22"/><circle cx="81.5" cy="370.0" r="3.7" fill="#d82828" fill-opacity="0.72"/><circle cx="91.4" cy="377.9" r="3.7" fill="#d82828" fill-opacity="0.68"/><circle cx="97.6" cy="368.0" r="3.7" fill="#d82828" fill-opacity="0.36"/><circle cx="76.5" cy="363.8" r="3.7" fill="#d82828" fill-opacity="0.40"/><circle cx="49.2" cy="370.0" r="3.7" fill="#d82828" fill-opacity="0.24"/><circle cx="38.0" cy="368.7" r="3.7" fill="#d82828" fill-opacity="0.24"/><circle cx="84.0" cy="355.0" r="3.7" fill="#d82828" fill-opacity="0.24"/><circle cx="100.0" cy="356.0" r="3.7" fill="#d82828" fill-opacity="0.20"/><circle cx="31.3" cy="347.5" r="5" fill="#e02a2a" fill-opacity="0.6"/><circle cx="53.9" cy="330.5" r="5.0" fill="#e02828" fill-opacity="0.7"/></g></g>
<g id="cR2" mask="url(#mHoles)"><g filter="url(#fCloud)"><ellipse cx="50" cy="324" rx="19" ry="15" fill="#d42828" fill-opacity="0.59"/><ellipse cx="66" cy="330" rx="18" ry="17" fill="#d42828" fill-opacity="0.59"/><ellipse cx="40" cy="340" rx="9" ry="10" fill="#d42828" fill-opacity="0.39"/><ellipse cx="74" cy="352" rx="14" ry="9" fill="#d42828" fill-opacity="0.39"/><ellipse cx="62" cy="316" rx="18" ry="9" fill="#d42828" fill-opacity="0.45"/><ellipse cx="34" cy="328" rx="6" ry="10" fill="#d42828" fill-opacity="0.39"/></g><g filter="url(#fR)"><circle cx="53.3" cy="347.6" r="3.6" fill="#d82828" fill-opacity="0.29"/><circle cx="94.8" cy="339.6" r="3.7" fill="#d82828" fill-opacity="0.17"/><circle cx="21.8" cy="325.8" r="3.3" fill="#d82828" fill-opacity="0.47"/><circle cx="71.0" cy="352.3" r="3.5" fill="#d82828" fill-opacity="0.80"/><circle cx="60.0" cy="305.1" r="3.7" fill="#d82828" fill-opacity="0.27"/><circle cx="30.2" cy="320.6" r="3.9" fill="#d82828" fill-opacity="0.68"/><circle cx="59.2" cy="354.4" r="3.2" fill="#d82828" fill-opacity="0.39"/><circle cx="53.7" cy="323.6" r="3.4" fill="#d82828" fill-opacity="0.96"/><circle cx="87.4" cy="360.2" r="3.5" fill="#d82828" fill-opacity="0.40"/><circle cx="41.2" cy="319.5" r="3.7" fill="#d82828" fill-opacity="1.00"/><circle cx="38.9" cy="306.0" r="3.8" fill="#d82828" fill-opacity="0.29"/><circle cx="80.9" cy="334.0" r="3.9" fill="#d82828" fill-opacity="0.81"/><circle cx="88.0" cy="332.9" r="3.3" fill="#d82828" fill-opacity="0.19"/><circle cx="82.0" cy="322.9" r="3.4" fill="#d82828" fill-opacity="0.61"/><circle cx="83.6" cy="315.1" r="3.4" fill="#d82828" fill-opacity="0.30"/><circle cx="62.7" cy="338.0" r="3.9" fill="#d82828" fill-opacity="0.75"/><circle cx="23.8" cy="335.8" r="4.0" fill="#d82828" fill-opacity="0.30"/><circle cx="32.0" cy="333.5" r="4.0" fill="#d82828" fill-opacity="0.57"/><circle cx="88.7" cy="354.6" r="3.7" fill="#d82828" fill-opacity="0.38"/><circle cx="46.2" cy="338.5" r="3.6" fill="#d82828" fill-opacity="0.49"/><circle cx="29.6" cy="313.1" r="4.0" fill="#d82828" fill-opacity="0.61"/><circle cx="35.5" cy="316.1" r="3.5" fill="#d82828" fill-opacity="0.88"/><circle cx="50.6" cy="308.8" r="3.8" fill="#d82828" fill-opacity="0.37"/><circle cx="66.0" cy="324.9" r="3.1" fill="#d82828" fill-opacity="0.97"/><circle cx="63.9" cy="311.2" r="3.9" fill="#d82828" fill-opacity="0.37"/><circle cx="20.1" cy="346.4" r="3.4" fill="#d82828" fill-opacity="0.21"/><circle cx="78.4" cy="359.8" r="3.3" fill="#d82828" fill-opacity="0.16"/><circle cx="44.5" cy="358.2" r="3.2" fill="#d82828" fill-opacity="0.25"/><circle cx="89.5" cy="348.7" r="3.4" fill="#d82828" fill-opacity="0.46"/><circle cx="68.5" cy="332.5" r="3.4" fill="#d82828" fill-opacity="1.00"/><circle cx="64.8" cy="351.8" r="3.7" fill="#d82828" fill-opacity="0.41"/><circle cx="78.2" cy="349.4" r="3.7" fill="#d82828" fill-opacity="0.56"/><circle cx="75.0" cy="342.3" r="3.7" fill="#d82828" fill-opacity="0.44"/><circle cx="25.5" cy="342.2" r="3.6" fill="#d82828" fill-opacity="0.51"/><circle cx="68.6" cy="342.0" r="3.6" fill="#d82828" fill-opacity="0.50"/><circle cx="53.5" cy="302.1" r="3.7" fill="#d82828" fill-opacity="0.25"/><circle cx="73.7" cy="316.9" r="3.5" fill="#d82828" fill-opacity="0.69"/><circle cx="55.3" cy="315.2" r="3.7" fill="#d82828" fill-opacity="0.60"/><circle cx="37.5" cy="329.4" r="3.2" fill="#d82828" fill-opacity="0.24"/><circle cx="46.7" cy="348.3" r="3.6" fill="#d82828" fill-opacity="0.39"/><circle cx="70.0" cy="361.0" r="3.6" fill="#d82828" fill-opacity="0.28"/><circle cx="63.9" cy="317.1" r="3.8" fill="#d82828" fill-opacity="0.72"/><circle cx="74.3" cy="305.6" r="3.3" fill="#d82828" fill-opacity="0.34"/><circle cx="37.2" cy="340.2" r="3.7" fill="#d82828" fill-opacity="0.34"/><circle cx="74.0" cy="327.4" r="3.4" fill="#d82828" fill-opacity="0.61"/><circle cx="31.5" cy="353.7" r="3.9" fill="#d82828" fill-opacity="0.18"/><circle cx="88.9" cy="319.8" r="3.7" fill="#d82828" fill-opacity="0.24"/><circle cx="92.9" cy="326.8" r="3.3" fill="#d82828" fill-opacity="0.23"/><circle cx="62.0" cy="343.8" r="3.3" fill="#d82828" fill-opacity="0.51"/><circle cx="45.7" cy="324.3" r="3.3" fill="#d82828" fill-opacity="1.00"/><circle cx="52.5" cy="356.8" r="3.4" fill="#d82828" fill-opacity="0.43"/><circle cx="82.0" cy="345.1" r="3.8" fill="#d82828" fill-opacity="0.30"/><circle cx="82.5" cy="353.1" r="3.5" fill="#d82828" fill-opacity="0.40"/><circle cx="41.5" cy="334.0" r="3.9" fill="#d82828" fill-opacity="0.47"/><circle cx="48.3" cy="332.9" r="3.9" fill="#d82828" fill-opacity="0.21"/><circle cx="97.8" cy="354.4" r="3.5" fill="#d82828" fill-opacity="0.25"/><circle cx="46.5" cy="314.3" r="3.3" fill="#d82828" fill-opacity="1.00"/><circle cx="19.0" cy="339.0" r="3.7" fill="#d82828" fill-opacity="0.16"/><circle cx="40.9" cy="346.6" r="3.4" fill="#d82828" fill-opacity="0.20"/><circle cx="55.7" cy="339.8" r="3.6" fill="#d82828" fill-opacity="0.24"/><circle cx="64.2" cy="359.3" r="3.7" fill="#d82828" fill-opacity="0.43"/><circle cx="31.1" cy="339.8" r="3.9" fill="#d82828" fill-opacity="0.64"/><circle cx="59.2" cy="322.4" r="3.8" fill="#d82828" fill-opacity="0.28"/><circle cx="76.3" cy="311.5" r="3.6" fill="#d82828" fill-opacity="0.47"/><circle cx="37.9" cy="354.4" r="3.7" fill="#d82828" fill-opacity="0.29"/><circle cx="18.8" cy="332.6" r="3.5" fill="#d82828" fill-opacity="0.27"/><circle cx="74.0" cy="335.6" r="3.3" fill="#d82828" fill-opacity="0.56"/><circle cx="97.1" cy="334.2" r="3.3" fill="#d82828" fill-opacity="0.20"/><circle cx="35.7" cy="323.0" r="3.8" fill="#d82828" fill-opacity="1.00"/><circle cx="59.9" cy="330.1" r="3.9" fill="#d82828" fill-opacity="0.93"/><circle cx="27.6" cy="328.1" r="3.6" fill="#d82828" fill-opacity="0.32"/><circle cx="87.9" cy="339.5" r="3.8" fill="#d82828" fill-opacity="0.27"/><circle cx="69.8" cy="309.4" r="3.2" fill="#d82828" fill-opacity="0.21"/><circle cx="25.6" cy="350.2" r="3.2" fill="#d82828" fill-opacity="0.31"/><circle cx="44.6" cy="307.0" r="3.4" fill="#d82828" fill-opacity="0.32"/><circle cx="82.1" cy="308.8" r="3.6" fill="#d82828" fill-opacity="0.29"/><circle cx="33.9" cy="308.7" r="3.4" fill="#d82828" fill-opacity="0.23"/><circle cx="25.5" cy="317.1" r="3.7" fill="#d82828" fill-opacity="0.45"/><circle cx="71.4" cy="322.2" r="3.3" fill="#d82828" fill-opacity="0.35"/><circle cx="81.5" cy="370.0" r="3.7" fill="#d82828" fill-opacity="1.00"/><circle cx="91.4" cy="377.9" r="3.7" fill="#d82828" fill-opacity="1.00"/><circle cx="97.6" cy="368.0" r="3.7" fill="#d82828" fill-opacity="0.59"/><circle cx="76.5" cy="363.8" r="3.7" fill="#d82828" fill-opacity="0.65"/><circle cx="49.2" cy="370.0" r="3.7" fill="#d82828" fill-opacity="0.39"/><circle cx="38.0" cy="368.7" r="3.7" fill="#d82828" fill-opacity="0.39"/><circle cx="84.0" cy="355.0" r="3.7" fill="#d82828" fill-opacity="0.39"/><circle cx="100.0" cy="356.0" r="3.7" fill="#d82828" fill-opacity="0.33"/><circle cx="31.3" cy="347.5" r="5" fill="#e02a2a" fill-opacity="0.6"/><circle cx="53.9" cy="330.5" r="5.0" fill="#e02828" fill-opacity="0.7"/></g></g>
<g id="cG"><g filter="url(#fCloud)"><ellipse cx="56.5" cy="340.5" rx="40" ry="37.5" fill="#2a6a18" fill-opacity="0.22"/><ellipse cx="45.5" cy="328.5" rx="22" ry="20" fill="#3a8a22" fill-opacity="0.16"/></g><g filter="url(#fR)"><circle cx="28.0" cy="358.6" r="3.1" fill="none" stroke="#4ec02c" stroke-opacity="0.48" stroke-width="1.8"/><circle cx="69.4" cy="340.7" r="2.9" fill="none" stroke="#4ec02c" stroke-opacity="0.26" stroke-width="1.8"/><circle cx="32.5" cy="367.4" r="3.1" fill="none" stroke="#4ec02c" stroke-opacity="0.14" stroke-width="1.8"/><circle cx="84.6" cy="343.6" r="2.7" fill="none" stroke="#4ec02c" stroke-opacity="0.14" stroke-width="1.8"/><circle cx="57.9" cy="320.1" r="3.0" fill="none" stroke="#4ec02c" stroke-opacity="0.20" stroke-width="1.8"/><circle cx="65.0" cy="305.9" r="2.6" fill="none" stroke="#4ec02c" stroke-opacity="0.38" stroke-width="1.8"/><circle cx="83.4" cy="319.7" r="3.4" fill="none" stroke="#4ec02c" stroke-opacity="0.19" stroke-width="1.8"/><circle cx="90.5" cy="352.4" r="3.1" fill="none" stroke="#4ec02c" stroke-opacity="0.24" stroke-width="1.8"/><circle cx="57.3" cy="309.8" r="3.3" fill="none" stroke="#4ec02c" stroke-opacity="0.33" stroke-width="1.8"/><circle cx="97.3" cy="331.3" r="2.7" fill="none" stroke="#4ec02c" stroke-opacity="0.15" stroke-width="1.8"/><circle cx="27.1" cy="369.5" r="2.4" fill="none" stroke="#4ec02c" stroke-opacity="0.28" stroke-width="1.8"/><circle cx="53.4" cy="346.9" r="2.8" fill="none" stroke="#4ec02c" stroke-opacity="0.13" stroke-width="1.8"/><circle cx="43.7" cy="341.2" r="2.8" fill="none" stroke="#4ec02c" stroke-opacity="0.20" stroke-width="1.8"/><circle cx="89.7" cy="320.0" r="3.2" fill="none" stroke="#4ec02c" stroke-opacity="0.12" stroke-width="1.8"/><circle cx="79.9" cy="364.8" r="3.4" fill="none" stroke="#4ec02c" stroke-opacity="0.28" stroke-width="1.8"/><circle cx="64.6" cy="362.0" r="3.0" fill="none" stroke="#4ec02c" stroke-opacity="0.27" stroke-width="1.8"/><circle cx="24.3" cy="340.5" r="3.2" fill="none" stroke="#4ec02c" stroke-opacity="0.44" stroke-width="1.8"/><circle cx="49.5" cy="331.0" r="3.0" fill="none" stroke="#4ec02c" stroke-opacity="0.28" stroke-width="1.8"/><circle cx="57.1" cy="341.8" r="3.1" fill="none" stroke="#4ec02c" stroke-opacity="0.45" stroke-width="1.8"/><circle cx="33.0" cy="351.8" r="2.8" fill="none" stroke="#4ec02c" stroke-opacity="0.40" stroke-width="1.8"/><circle cx="62.5" cy="352.9" r="3.4" fill="none" stroke="#4ec02c" stroke-opacity="0.27" stroke-width="1.8"/><circle cx="29.4" cy="314.5" r="2.6" fill="none" stroke="#4ec02c" stroke-opacity="0.16" stroke-width="1.8"/><circle cx="44.1" cy="378.8" r="3.1" fill="none" stroke="#4ec02c" stroke-opacity="0.37" stroke-width="1.8"/><circle cx="44.0" cy="350.8" r="3.4" fill="none" stroke="#4ec02c" stroke-opacity="0.45" stroke-width="1.8"/><circle cx="40.5" cy="308.8" r="2.6" fill="none" stroke="#4ec02c" stroke-opacity="0.14" stroke-width="1.8"/><circle cx="81.9" cy="331.9" r="2.7" fill="none" stroke="#4ec02c" stroke-opacity="0.14" stroke-width="1.8"/><circle cx="73.6" cy="357.5" r="3.1" fill="none" stroke="#4ec02c" stroke-opacity="0.46" stroke-width="1.8"/><circle cx="98.1" cy="350.2" r="3.3" fill="none" stroke="#4ec02c" stroke-opacity="0.17" stroke-width="1.8"/><circle cx="91.2" cy="341.7" r="3.3" fill="none" stroke="#4ec02c" stroke-opacity="0.20" stroke-width="1.8"/><circle cx="46.5" cy="321.0" r="2.8" fill="none" stroke="#4ec02c" stroke-opacity="0.39" stroke-width="1.8"/><circle cx="36.2" cy="324.6" r="2.5" fill="none" stroke="#4ec02c" stroke-opacity="0.09" stroke-width="1.8"/><circle cx="50.4" cy="314.5" r="3.2" fill="none" stroke="#4ec02c" stroke-opacity="0.19" stroke-width="1.8"/><circle cx="19.6" cy="328.7" r="2.8" fill="none" stroke="#4ec02c" stroke-opacity="0.32" stroke-width="1.8"/><circle cx="79.1" cy="340.7" r="3.1" fill="none" stroke="#4ec02c" stroke-opacity="0.05" stroke-width="1.8"/><circle cx="87.3" cy="367.6" r="2.7" fill="none" stroke="#4ec02c" stroke-opacity="0.25" stroke-width="1.8"/><circle cx="88.2" cy="326.2" r="2.9" fill="none" stroke="#4ec02c" stroke-opacity="0.15" stroke-width="1.8"/><circle cx="15.6" cy="350.5" r="3.0" fill="none" stroke="#4ec02c" stroke-opacity="0.50" stroke-width="1.8"/><circle cx="70.2" cy="372.4" r="2.8" fill="none" stroke="#4ec02c" stroke-opacity="0.31" stroke-width="1.8"/><circle cx="64.9" cy="321.9" r="2.5" fill="none" stroke="#4ec02c" stroke-opacity="0.18" stroke-width="1.8"/><circle cx="49.2" cy="381.5" r="3.1" fill="none" stroke="#4ec02c" stroke-opacity="0.10" stroke-width="1.8"/><circle cx="15.7" cy="338.0" r="3.3" fill="none" stroke="#4ec02c" stroke-opacity="0.48" stroke-width="1.8"/><circle cx="71.2" cy="310.8" r="2.5" fill="none" stroke="#4ec02c" stroke-opacity="0.49" stroke-width="1.8"/><circle cx="60.9" cy="327.6" r="2.8" fill="none" stroke="#4ec02c" stroke-opacity="0.41" stroke-width="1.8"/><circle cx="46.7" cy="360.3" r="3.2" fill="none" stroke="#4ec02c" stroke-opacity="0.19" stroke-width="1.8"/><circle cx="76.1" cy="374.3" r="3.1" fill="none" stroke="#4ec02c" stroke-opacity="0.36" stroke-width="1.8"/><circle cx="35.8" cy="359.2" r="3.2" fill="none" stroke="#4ec02c" stroke-opacity="0.17" stroke-width="1.8"/><circle cx="59.8" cy="347.7" r="3.2" fill="none" stroke="#4ec02c" stroke-opacity="0.50" stroke-width="1.8"/><circle cx="59.0" cy="333.1" r="3.1" fill="none" stroke="#4ec02c" stroke-opacity="0.30" stroke-width="1.8"/><circle cx="85.4" cy="361.5" r="2.5" fill="none" stroke="#4ec02c" stroke-opacity="0.28" stroke-width="1.8"/><circle cx="69.1" cy="381.9" r="2.8" fill="none" stroke="#4ec02c" stroke-opacity="0.39" stroke-width="1.8"/><circle cx="56.8" cy="361.0" r="3.1" fill="none" stroke="#4ec02c" stroke-opacity="0.32" stroke-width="1.8"/><circle cx="75.4" cy="317.5" r="2.6" fill="none" stroke="#4ec02c" stroke-opacity="0.35" stroke-width="1.8"/><circle cx="35.9" cy="371.9" r="3.0" fill="none" stroke="#4ec02c" stroke-opacity="0.13" stroke-width="1.8"/><circle cx="37.9" cy="332.2" r="3.3" fill="none" stroke="#4ec02c" stroke-opacity="0.36" stroke-width="1.8"/><circle cx="96.3" cy="339.7" r="2.5" fill="none" stroke="#4ec02c" stroke-opacity="0.49" stroke-width="1.8"/><circle cx="51.9" cy="352.5" r="2.5" fill="none" stroke="#4ec02c" stroke-opacity="0.20" stroke-width="1.8"/><circle cx="38.2" cy="314.8" r="3.1" fill="none" stroke="#4ec02c" stroke-opacity="0.33" stroke-width="1.8"/><circle cx="95.8" cy="359.9" r="3.0" fill="none" stroke="#4ec02c" stroke-opacity="0.36" stroke-width="1.8"/><circle cx="53.5" cy="376.0" r="2.9" fill="none" stroke="#4ec02c" stroke-opacity="0.20" stroke-width="1.8"/><circle cx="46.1" cy="311.5" r="2.6" fill="none" stroke="#4ec02c" stroke-opacity="0.08" stroke-width="1.8"/><circle cx="60.1" cy="304.2" r="3.1" fill="none" stroke="#4ec02c" stroke-opacity="0.41" stroke-width="1.8"/><circle cx="30.0" cy="334.3" r="2.9" fill="none" stroke="#4ec02c" stroke-opacity="0.40" stroke-width="1.8"/><circle cx="85.2" cy="351.6" r="2.8" fill="none" stroke="#4ec02c" stroke-opacity="0.17" stroke-width="1.8"/><circle cx="19.5" cy="343.5" r="2.8" fill="none" stroke="#4ec02c" stroke-opacity="0.46" stroke-width="1.8"/><circle cx="60.4" cy="377.2" r="2.4" fill="none" stroke="#4ec02c" stroke-opacity="0.29" stroke-width="1.8"/><circle cx="95.4" cy="345.6" r="2.6" fill="none" stroke="#4ec02c" stroke-opacity="0.41" stroke-width="1.8"/><circle cx="91.2" cy="330.8" r="2.8" fill="none" stroke="#4ec02c" stroke-opacity="0.21" stroke-width="1.8"/><circle cx="20.8" cy="334.5" r="2.8" fill="none" stroke="#4ec02c" stroke-opacity="0.30" stroke-width="1.8"/><circle cx="29.2" cy="345.9" r="3.2" fill="none" stroke="#4ec02c" stroke-opacity="0.22" stroke-width="1.8"/><circle cx="24.3" cy="320.4" r="3.2" fill="none" stroke="#4ec02c" stroke-opacity="0.10" stroke-width="1.8"/><circle cx="70.8" cy="321.5" r="2.7" fill="none" stroke="#4ec02c" stroke-opacity="0.09" stroke-width="1.8"/><circle cx="65.1" cy="368.2" r="2.5" fill="none" stroke="#4ec02c" stroke-opacity="0.42" stroke-width="1.8"/><circle cx="72.0" cy="349.4" r="3.1" fill="none" stroke="#4ec02c" stroke-opacity="0.14" stroke-width="1.8"/><circle cx="46.1" cy="370.2" r="2.6" fill="none" stroke="#4ec02c" stroke-opacity="0.25" stroke-width="1.8"/><circle cx="74.8" cy="335.2" r="3.1" fill="none" stroke="#4ec02c" stroke-opacity="0.43" stroke-width="1.8"/><circle cx="77.3" cy="350.5" r="3.1" fill="none" stroke="#4ec02c" stroke-opacity="0.33" stroke-width="1.8"/><circle cx="69.5" cy="354.0" r="2.5" fill="none" stroke="#4ec02c" stroke-opacity="0.24" stroke-width="1.8"/><circle cx="42.3" cy="327.9" r="2.6" fill="none" stroke="#4ec02c" stroke-opacity="0.30" stroke-width="1.8"/><circle cx="32.9" cy="309.5" r="3.0" fill="none" stroke="#4ec02c" stroke-opacity="0.14" stroke-width="1.8"/><circle cx="64.5" cy="315.5" r="2.7" fill="none" stroke="#4ec02c" stroke-opacity="0.42" stroke-width="1.8"/><circle cx="27.9" cy="329.0" r="2.4" fill="none" stroke="#4ec02c" stroke-opacity="0.43" stroke-width="1.8"/><circle cx="23.4" cy="356.3" r="3.3" fill="none" stroke="#4ec02c" stroke-opacity="0.50" stroke-width="1.8"/><circle cx="52.4" cy="319.7" r="2.8" fill="none" stroke="#4ec02c" stroke-opacity="0.31" stroke-width="1.8"/><circle cx="73.3" cy="365.6" r="3.0" fill="none" stroke="#4ec02c" stroke-opacity="0.35" stroke-width="1.8"/><circle cx="83.0" cy="374.1" r="3.4" fill="none" stroke="#4ec02c" stroke-opacity="0.37" stroke-width="1.8"/><circle cx="39.5" cy="337.9" r="2.7" fill="none" stroke="#4ec02c" stroke-opacity="0.46" stroke-width="1.8"/><circle cx="68.5" cy="326.6" r="2.9" fill="none" stroke="#4ec02c" stroke-opacity="0.33" stroke-width="1.8"/><circle cx="38.0" cy="366.6" r="3.1" fill="none" stroke="#4ec02c" stroke-opacity="0.05" stroke-width="1.8"/><circle cx="80.5" cy="308.3" r="3.2" fill="none" stroke="#4ec02c" stroke-opacity="0.36" stroke-width="1.8"/><circle cx="95.2" cy="326.2" r="2.9" fill="none" stroke="#4ec02c" stroke-opacity="0.30" stroke-width="1.8"/><circle cx="66.8" cy="333.9" r="2.9" fill="none" stroke="#4ec02c" stroke-opacity="0.14" stroke-width="1.8"/><circle cx="52.3" cy="363.7" r="2.9" fill="none" stroke="#4ec02c" stroke-opacity="0.07" stroke-width="1.8"/><circle cx="41.1" cy="322.2" r="2.9" fill="none" stroke="#4ec02c" stroke-opacity="0.35" stroke-width="1.8"/><circle cx="31.3" cy="320.4" r="2.8" fill="none" stroke="#4ec02c" stroke-opacity="0.32" stroke-width="1.8"/><circle cx="73.9" cy="326.8" r="3.4" fill="none" stroke="#4ec02c" stroke-opacity="0.47" stroke-width="1.8"/><circle cx="77.2" cy="322.6" r="2.5" fill="none" stroke="#4ec02c" stroke-opacity="0.42" stroke-width="1.8"/><circle cx="51.1" cy="304.9" r="3.0" fill="none" stroke="#4ec02c" stroke-opacity="0.07" stroke-width="1.8"/><circle cx="21.7" cy="349.5" r="2.8" fill="none" stroke="#4ec02c" stroke-opacity="0.16" stroke-width="1.8"/><circle cx="41.2" cy="360.0" r="2.5" fill="none" stroke="#4ec02c" stroke-opacity="0.30" stroke-width="1.8"/><circle cx="59.5" cy="367.2" r="3.3" fill="none" stroke="#4ec02c" stroke-opacity="0.20" stroke-width="1.8"/><circle cx="35.6" cy="341.3" r="3.3" fill="none" stroke="#4ec02c" stroke-opacity="0.38" stroke-width="1.8"/><circle cx="41.1" cy="373.5" r="2.5" fill="none" stroke="#4ec02c" stroke-opacity="0.46" stroke-width="1.8"/><circle cx="83.9" cy="313.3" r="3.0" fill="none" stroke="#4ec02c" stroke-opacity="0.49" stroke-width="1.8"/><circle cx="58.6" cy="382.9" r="3.1" fill="none" stroke="#4ec02c" stroke-opacity="0.40" stroke-width="1.8"/><circle cx="23.6" cy="364.9" r="2.7" fill="none" stroke="#4ec02c" stroke-opacity="0.43" stroke-width="1.8"/><circle cx="82.2" cy="326.4" r="3.3" fill="none" stroke="#4ec02c" stroke-opacity="0.46" stroke-width="1.8"/><circle cx="44.9" cy="333.7" r="2.8" fill="none" stroke="#4ec02c" stroke-opacity="0.41" stroke-width="1.8"/><circle cx="62.7" cy="338.4" r="2.9" fill="none" stroke="#4ec02c" stroke-opacity="0.10" stroke-width="1.8"/><circle cx="40.4" cy="354.6" r="2.4" fill="none" stroke="#4ec02c" stroke-opacity="0.08" stroke-width="1.8"/><circle cx="76.2" cy="345.2" r="2.6" fill="none" stroke="#4ec02c" stroke-opacity="0.12" stroke-width="1.8"/><circle cx="55.7" cy="327.6" r="2.9" fill="none" stroke="#4ec02c" stroke-opacity="0.38" stroke-width="1.8"/><circle cx="37.8" cy="346.8" r="2.9" fill="none" stroke="#4ec02c" stroke-opacity="0.25" stroke-width="1.8"/><circle cx="92.0" cy="364.1" r="3.0" fill="none" stroke="#4ec02c" stroke-opacity="0.19" stroke-width="1.8"/><circle cx="85.9" cy="335.3" r="2.9" fill="none" stroke="#4ec02c" stroke-opacity="0.41" stroke-width="1.8"/><circle cx="75.3" cy="306.3" r="2.8" fill="none" stroke="#4ec02c" stroke-opacity="0.13" stroke-width="1.8"/><circle cx="19.2" cy="360.0" r="3.3" fill="none" stroke="#4ec02c" stroke-opacity="0.39" stroke-width="1.8"/><circle cx="50.2" cy="339.1" r="2.8" fill="none" stroke="#4ec02c" stroke-opacity="0.22" stroke-width="1.8"/><circle cx="66.8" cy="347.3" r="2.9" fill="none" stroke="#4ec02c" stroke-opacity="0.33" stroke-width="1.8"/><circle cx="66.1" cy="375.9" r="2.6" fill="none" stroke="#4ec02c" stroke-opacity="0.05" stroke-width="1.8"/><circle cx="55.9" cy="371.0" r="2.6" fill="none" stroke="#4ec02c" stroke-opacity="0.42" stroke-width="1.8"/><circle cx="35.0" cy="377.0" r="2.5" fill="none" stroke="#4ec02c" stroke-opacity="0.27" stroke-width="1.8"/><circle cx="57.5" cy="354.7" r="2.6" fill="none" stroke="#4ec02c" stroke-opacity="0.15" stroke-width="1.8"/><circle cx="79.9" cy="359.2" r="2.6" fill="none" stroke="#4ec02c" stroke-opacity="0.24" stroke-width="1.8"/><circle cx="43.5" cy="304.0" r="2.6" fill="none" stroke="#4ec02c" stroke-opacity="0.06" stroke-width="1.8"/><circle cx="54.8" cy="336.4" r="2.5" fill="none" stroke="#4ec02c" stroke-opacity="0.13" stroke-width="1.8"/><circle cx="51.2" cy="324.9" r="2.9" fill="none" stroke="#4ec02c" stroke-opacity="0.08" stroke-width="1.8"/><circle cx="90.5" cy="358.8" r="2.4" fill="none" stroke="#4ec02c" stroke-opacity="0.26" stroke-width="1.8"/><circle cx="33.4" cy="329.2" r="2.8" fill="none" stroke="#4ec02c" stroke-opacity="0.38" stroke-width="1.8"/><circle cx="47.5" cy="346.2" r="2.5" fill="none" stroke="#4ec02c" stroke-opacity="0.24" stroke-width="1.8"/><circle cx="26.7" cy="352.2" r="2.8" fill="none" stroke="#4ec02c" stroke-opacity="0.06" stroke-width="1.8"/><circle cx="52.1" cy="358.3" r="3.4" fill="none" stroke="#4ec02c" stroke-opacity="0.15" stroke-width="1.8"/><circle cx="22.2" cy="309.3" r="3.5" fill="#62ec3c" fill-opacity="1.00"/><circle cx="18.8" cy="320.2" r="4.5" fill="#62ec3c" fill-opacity="1.00"/><circle cx="26.3" cy="316.1" r="4.0" fill="#62ec3c" fill-opacity="0.95"/><circle cx="30.4" cy="308.0" r="3.8" fill="#62ec3c" fill-opacity="0.70"/><circle cx="35.1" cy="304.5" r="3.5" fill="#62ec3c" fill-opacity="0.60"/><circle cx="43.3" cy="300.5" r="3.5" fill="#62ec3c" fill-opacity="0.55"/><circle cx="61.1" cy="301.8" r="3.8" fill="#62ec3c" fill-opacity="0.95"/><circle cx="26.3" cy="330.5" r="4.0" fill="#62ec3c" fill-opacity="0.90"/><circle cx="36.5" cy="334.6" r="4.0" fill="#62ec3c" fill-opacity="0.90"/><circle cx="30.4" cy="338.0" r="3.5" fill="#62ec3c" fill-opacity="0.60"/><circle cx="12.6" cy="339.3" r="3.6" fill="#62ec3c" fill-opacity="0.95"/><circle cx="29.7" cy="346.8" r="4.0" fill="#62ec3c" fill-opacity="0.95"/><circle cx="42.7" cy="326.4" r="3.5" fill="#62ec3c" fill-opacity="0.60"/><circle cx="39.2" cy="318.2" r="3.5" fill="#62ec3c" fill-opacity="0.40"/><circle cx="50.1" cy="315.5" r="3.5" fill="#62ec3c" fill-opacity="0.40"/><circle cx="67.4" cy="308.6" r="3.8" fill="#62ec3c" fill-opacity="0.75"/><circle cx="74.2" cy="308.6" r="3.5" fill="#62ec3c" fill-opacity="0.40"/><circle cx="75.6" cy="322.3" r="4.0" fill="#62ec3c" fill-opacity="0.90"/><circle cx="83.1" cy="315.5" r="3.5" fill="#62ec3c" fill-opacity="0.60"/><circle cx="85.1" cy="322.3" r="3.5" fill="#62ec3c" fill-opacity="0.60"/><circle cx="92.0" cy="331.8" r="3.8" fill="#62ec3c" fill-opacity="0.60"/><circle cx="68.8" cy="334.6" r="4.0" fill="#62ec3c" fill-opacity="0.90"/><circle cx="100.2" cy="340.0" r="4.0" fill="#62ec3c" fill-opacity="0.90"/><circle cx="77.0" cy="346.8" r="3.5" fill="#62ec3c" fill-opacity="0.60"/><circle cx="19.5" cy="355.2" r="3.5" fill="#62ec3c" fill-opacity="0.50"/><circle cx="24.2" cy="365.5" r="4.0" fill="#62ec3c" fill-opacity="0.95"/><circle cx="36.5" cy="369.6" r="4.2" fill="#62ec3c" fill-opacity="0.95"/><circle cx="46.1" cy="381.8" r="4.0" fill="#62ec3c" fill-opacity="0.95"/><circle cx="57.0" cy="375.0" r="4.0" fill="#62ec3c" fill-opacity="0.85"/><circle cx="31.1" cy="358.6" r="3.5" fill="#62ec3c" fill-opacity="0.40"/><circle cx="47.5" cy="357.3" r="3.5" fill="#62ec3c" fill-opacity="0.55"/><circle cx="62.5" cy="350.5" r="3.5" fill="#62ec3c" fill-opacity="0.40"/><circle cx="97.5" cy="368.2" r="4.6" fill="#62ec3c" fill-opacity="1.00"/><circle cx="48.5" cy="299.0" r="3.6" fill="#62ec3c" fill-opacity="0.80"/><circle cx="54.5" cy="304.0" r="3.4" fill="#62ec3c" fill-opacity="0.60"/><circle cx="14.5" cy="330.0" r="3.8" fill="#62ec3c" fill-opacity="0.70"/><circle cx="20.5" cy="340.0" r="3.5" fill="#62ec3c" fill-opacity="0.60"/><circle cx="16.5" cy="350.0" r="3.6" fill="#62ec3c" fill-opacity="0.70"/><circle cx="38.5" cy="310.0" r="3.6" fill="#62ec3c" fill-opacity="0.60"/><circle cx="45.5" cy="311.0" r="3.4" fill="#62ec3c" fill-opacity="0.50"/><circle cx="32.5" cy="323.0" r="3.6" fill="#62ec3c" fill-opacity="0.60"/><circle cx="52.5" cy="327.0" r="3.4" fill="#62ec3c" fill-opacity="0.50"/><circle cx="59.5" cy="318.0" r="3.5" fill="#62ec3c" fill-opacity="0.60"/><circle cx="86.5" cy="302.0" r="3.4" fill="#62ec3c" fill-opacity="0.50"/><circle cx="103.5" cy="358.0" r="3.6" fill="#62ec3c" fill-opacity="0.70"/><circle cx="91.5" cy="362.0" r="3.5" fill="#62ec3c" fill-opacity="0.60"/><circle cx="52.5" cy="389.0" r="3.5" fill="#62ec3c" fill-opacity="0.70"/><circle cx="64.5" cy="386.0" r="3.5" fill="#62ec3c" fill-opacity="0.60"/><circle cx="89.2" cy="377.7" r="4.0" fill="#62ec3c" fill-opacity="0.95"/><circle cx="74.2" cy="377.1" r="4.0" fill="#62ec3c" fill-opacity="0.85"/><circle cx="60.6" cy="373.6" r="4.0" fill="#62ec3c" fill-opacity="0.85"/><circle cx="101.5" cy="350.5" r="3.8" fill="#62ec3c" fill-opacity="0.60"/><circle cx="68.8" cy="357.3" r="3.0" fill="#62ec3c" fill-opacity="0.85"/><circle cx="78.3" cy="347.7" r="3.5" fill="#62ec3c" fill-opacity="0.60"/><circle cx="62.0" cy="350.5" r="3.5" fill="#62ec3c" fill-opacity="0.55"/><circle cx="83.8" cy="355.9" r="3.5" fill="#62ec3c" fill-opacity="0.40"/><circle cx="36.5" cy="348.0" r="3.6" fill="#62ec3c" fill-opacity="0.60"/></g><g filter="url(#fH)"><circle cx="23.2" cy="309.9" r="1.3" fill="#000" fill-opacity="0.30"/><circle cx="19.9" cy="319.8" r="1.7" fill="#000" fill-opacity="0.30"/><circle cx="27.0" cy="317.1" r="1.5" fill="#000" fill-opacity="0.30"/><circle cx="30.3" cy="306.8" r="1.4" fill="#000" fill-opacity="0.30"/><circle cx="35.7" cy="303.5" r="1.3" fill="#000" fill-opacity="0.30"/><circle cx="43.3" cy="299.3" r="1.3" fill="#000" fill-opacity="0.30"/><circle cx="60.7" cy="302.9" r="1.4" fill="#000" fill-opacity="0.30"/><circle cx="25.6" cy="331.5" r="1.5" fill="#000" fill-opacity="0.30"/><circle cx="36.3" cy="333.4" r="1.5" fill="#000" fill-opacity="0.30"/><circle cx="31.6" cy="337.7" r="1.3" fill="#000" fill-opacity="0.30"/><circle cx="12.0" cy="338.3" r="1.4" fill="#000" fill-opacity="0.30"/><circle cx="28.5" cy="346.5" r="1.5" fill="#000" fill-opacity="0.30"/><circle cx="41.8" cy="327.2" r="1.3" fill="#000" fill-opacity="0.30"/><circle cx="38.2" cy="318.9" r="1.3" fill="#000" fill-opacity="0.30"/><circle cx="49.9" cy="314.3" r="1.3" fill="#000" fill-opacity="0.30"/><circle cx="66.3" cy="309.1" r="1.4" fill="#000" fill-opacity="0.30"/><circle cx="73.0" cy="308.3" r="1.3" fill="#000" fill-opacity="0.30"/><circle cx="74.8" cy="321.4" r="1.5" fill="#000" fill-opacity="0.30"/><circle cx="82.3" cy="314.6" r="1.3" fill="#000" fill-opacity="0.30"/><circle cx="86.3" cy="322.6" r="1.3" fill="#000" fill-opacity="0.30"/><circle cx="92.1" cy="333.0" r="1.4" fill="#000" fill-opacity="0.30"/><circle cx="68.5" cy="333.4" r="1.5" fill="#000" fill-opacity="0.30"/><circle cx="99.1" cy="339.5" r="1.5" fill="#000" fill-opacity="0.30"/><circle cx="77.6" cy="345.8" r="1.3" fill="#000" fill-opacity="0.30"/><circle cx="20.6" cy="355.6" r="1.3" fill="#000" fill-opacity="0.30"/><circle cx="24.3" cy="366.7" r="1.5" fill="#000" fill-opacity="0.30"/><circle cx="35.3" cy="369.6" r="1.6" fill="#000" fill-opacity="0.30"/><circle cx="46.1" cy="380.6" r="1.5" fill="#000" fill-opacity="0.30"/><circle cx="57.4" cy="376.1" r="1.5" fill="#000" fill-opacity="0.30"/><circle cx="31.2" cy="357.4" r="1.3" fill="#000" fill-opacity="0.30"/><circle cx="46.5" cy="357.9" r="1.3" fill="#000" fill-opacity="0.30"/><circle cx="62.1" cy="351.6" r="1.3" fill="#000" fill-opacity="0.30"/><circle cx="98.1" cy="367.1" r="1.7" fill="#000" fill-opacity="0.30"/><circle cx="49.4" cy="299.7" r="1.4" fill="#000" fill-opacity="0.30"/><circle cx="55.6" cy="303.5" r="1.3" fill="#000" fill-opacity="0.30"/><circle cx="14.1" cy="331.1" r="1.4" fill="#000" fill-opacity="0.30"/><circle cx="19.7" cy="340.9" r="1.3" fill="#000" fill-opacity="0.30"/><circle cx="16.8" cy="351.1" r="1.4" fill="#000" fill-opacity="0.30"/><circle cx="37.3" cy="310.2" r="1.4" fill="#000" fill-opacity="0.30"/><circle cx="46.2" cy="310.0" r="1.3" fill="#000" fill-opacity="0.30"/><circle cx="32.7" cy="324.2" r="1.4" fill="#000" fill-opacity="0.30"/><circle cx="51.4" cy="326.6" r="1.3" fill="#000" fill-opacity="0.30"/><circle cx="58.4" cy="318.4" r="1.3" fill="#000" fill-opacity="0.30"/><circle cx="86.1" cy="303.1" r="1.3" fill="#000" fill-opacity="0.30"/><circle cx="104.3" cy="358.9" r="1.4" fill="#000" fill-opacity="0.30"/><circle cx="91.1" cy="360.9" r="1.3" fill="#000" fill-opacity="0.30"/><circle cx="51.5" cy="389.6" r="1.3" fill="#000" fill-opacity="0.30"/><circle cx="63.3" cy="386.2" r="1.3" fill="#000" fill-opacity="0.30"/><circle cx="88.2" cy="377.0" r="1.5" fill="#000" fill-opacity="0.30"/><circle cx="75.1" cy="377.8" r="1.5" fill="#000" fill-opacity="0.30"/><circle cx="61.1" cy="372.5" r="1.5" fill="#000" fill-opacity="0.30"/><circle cx="102.4" cy="349.7" r="1.4" fill="#000" fill-opacity="0.30"/><circle cx="68.8" cy="358.5" r="1.1" fill="#000" fill-opacity="0.30"/><circle cx="78.8" cy="346.6" r="1.3" fill="#000" fill-opacity="0.30"/><circle cx="61.6" cy="349.4" r="1.3" fill="#000" fill-opacity="0.30"/><circle cx="83.4" cy="357.0" r="1.3" fill="#000" fill-opacity="0.30"/><circle cx="36.4" cy="349.2" r="1.4" fill="#000" fill-opacity="0.30"/><circle cx="28.0" cy="358.6" r="1.7" fill="#000" fill-opacity="0.5"/><circle cx="69.4" cy="340.7" r="1.8" fill="#000" fill-opacity="0.5"/><circle cx="32.5" cy="367.4" r="1.8" fill="#000" fill-opacity="0.5"/><circle cx="84.6" cy="343.6" r="1.6" fill="#000" fill-opacity="0.5"/><circle cx="57.9" cy="320.1" r="1.8" fill="#000" fill-opacity="0.5"/><circle cx="65.0" cy="305.9" r="1.6" fill="#000" fill-opacity="0.5"/><circle cx="97.3" cy="331.3" r="1.7" fill="#000" fill-opacity="0.5"/><circle cx="53.4" cy="346.9" r="1.9" fill="#000" fill-opacity="0.5"/><circle cx="43.7" cy="341.2" r="2.0" fill="#000" fill-opacity="0.5"/><circle cx="89.7" cy="320.0" r="1.7" fill="#000" fill-opacity="0.5"/><circle cx="79.9" cy="364.8" r="2.2" fill="#000" fill-opacity="0.5"/><circle cx="64.6" cy="362.0" r="1.9" fill="#000" fill-opacity="0.5"/><circle cx="24.3" cy="340.5" r="2.2" fill="#000" fill-opacity="0.5"/><circle cx="49.5" cy="331.0" r="1.8" fill="#000" fill-opacity="0.5"/><circle cx="62.5" cy="352.9" r="1.9" fill="#000" fill-opacity="0.5"/><circle cx="29.4" cy="314.5" r="2.2" fill="#000" fill-opacity="0.5"/><circle cx="44.1" cy="378.8" r="1.9" fill="#000" fill-opacity="0.5"/><circle cx="44.0" cy="350.8" r="1.8" fill="#000" fill-opacity="0.5"/><circle cx="81.9" cy="331.9" r="1.5" fill="#000" fill-opacity="0.5"/><circle cx="73.6" cy="357.5" r="2.1" fill="#000" fill-opacity="0.5"/><circle cx="98.1" cy="350.2" r="1.8" fill="#000" fill-opacity="0.5"/><circle cx="46.5" cy="321.0" r="2.0" fill="#000" fill-opacity="0.5"/><circle cx="36.2" cy="324.6" r="2.2" fill="#000" fill-opacity="0.5"/><circle cx="50.4" cy="314.5" r="1.7" fill="#000" fill-opacity="0.5"/><circle cx="19.6" cy="328.7" r="1.6" fill="#000" fill-opacity="0.5"/><circle cx="79.1" cy="340.7" r="1.7" fill="#000" fill-opacity="0.5"/><circle cx="87.3" cy="367.6" r="2.1" fill="#000" fill-opacity="0.5"/><circle cx="88.2" cy="326.2" r="1.4" fill="#000" fill-opacity="0.5"/><circle cx="70.2" cy="372.4" r="1.4" fill="#000" fill-opacity="0.5"/><circle cx="60.9" cy="327.6" r="2.1" fill="#000" fill-opacity="0.5"/><circle cx="46.7" cy="360.3" r="2.1" fill="#000" fill-opacity="0.5"/><circle cx="35.8" cy="359.2" r="1.7" fill="#000" fill-opacity="0.5"/><circle cx="85.4" cy="361.5" r="1.5" fill="#000" fill-opacity="0.5"/><circle cx="69.1" cy="381.9" r="1.9" fill="#000" fill-opacity="0.5"/><circle cx="56.8" cy="361.0" r="1.7" fill="#000" fill-opacity="0.5"/><circle cx="37.9" cy="332.2" r="1.5" fill="#000" fill-opacity="0.5"/><circle cx="96.3" cy="339.7" r="1.9" fill="#000" fill-opacity="0.5"/><circle cx="51.9" cy="352.5" r="1.8" fill="#000" fill-opacity="0.5"/><circle cx="53.5" cy="376.0" r="1.5" fill="#000" fill-opacity="0.5"/><circle cx="46.1" cy="311.5" r="1.4" fill="#000" fill-opacity="0.5"/><circle cx="30.0" cy="334.3" r="1.9" fill="#000" fill-opacity="0.5"/><circle cx="19.5" cy="343.5" r="2.1" fill="#000" fill-opacity="0.5"/><circle cx="95.4" cy="345.6" r="2.1" fill="#000" fill-opacity="0.5"/><circle cx="29.2" cy="345.9" r="2.1" fill="#000" fill-opacity="0.5"/><circle cx="70.8" cy="321.5" r="1.5" fill="#000" fill-opacity="0.5"/><circle cx="72.0" cy="349.4" r="1.8" fill="#000" fill-opacity="0.5"/><circle cx="74.8" cy="335.2" r="1.7" fill="#000" fill-opacity="0.5"/><circle cx="77.3" cy="350.5" r="1.5" fill="#000" fill-opacity="0.5"/><circle cx="69.5" cy="354.0" r="1.9" fill="#000" fill-opacity="0.5"/><circle cx="64.5" cy="315.5" r="1.6" fill="#000" fill-opacity="0.5"/><circle cx="23.4" cy="356.3" r="2.0" fill="#000" fill-opacity="0.5"/><circle cx="38.0" cy="366.6" r="1.7" fill="#000" fill-opacity="0.5"/><circle cx="95.2" cy="326.2" r="2.0" fill="#000" fill-opacity="0.5"/><circle cx="41.1" cy="322.2" r="2.0" fill="#000" fill-opacity="0.5"/><circle cx="73.9" cy="326.8" r="1.4" fill="#000" fill-opacity="0.5"/><circle cx="41.2" cy="360.0" r="1.6" fill="#000" fill-opacity="0.5"/><circle cx="23.6" cy="364.9" r="2.0" fill="#000" fill-opacity="0.5"/><circle cx="82.2" cy="326.4" r="1.7" fill="#000" fill-opacity="0.5"/><circle cx="44.9" cy="333.7" r="1.8" fill="#000" fill-opacity="0.5"/><circle cx="76.2" cy="345.2" r="2.0" fill="#000" fill-opacity="0.5"/><circle cx="75.3" cy="306.3" r="1.9" fill="#000" fill-opacity="0.5"/><circle cx="19.2" cy="360.0" r="1.7" fill="#000" fill-opacity="0.5"/><circle cx="50.2" cy="339.1" r="2.0" fill="#000" fill-opacity="0.5"/><circle cx="66.8" cy="347.3" r="1.6" fill="#000" fill-opacity="0.5"/><circle cx="66.1" cy="375.9" r="1.6" fill="#000" fill-opacity="0.5"/><circle cx="55.9" cy="371.0" r="2.2" fill="#000" fill-opacity="0.5"/><circle cx="35.0" cy="377.0" r="1.5" fill="#000" fill-opacity="0.5"/><circle cx="57.5" cy="354.7" r="2.0" fill="#000" fill-opacity="0.5"/><circle cx="79.9" cy="359.2" r="2.2" fill="#000" fill-opacity="0.5"/><circle cx="43.5" cy="304.0" r="2.2" fill="#000" fill-opacity="0.5"/><circle cx="54.8" cy="336.4" r="2.2" fill="#000" fill-opacity="0.5"/><circle cx="90.5" cy="358.8" r="1.5" fill="#000" fill-opacity="0.5"/><circle cx="47.5" cy="346.2" r="1.9" fill="#000" fill-opacity="0.5"/><circle cx="26.7" cy="352.2" r="2.1" fill="#000" fill-opacity="0.5"/><circle cx="52.1" cy="358.3" r="1.7" fill="#000" fill-opacity="0.5"/></g></g>
<g id="cB" filter="url(#fR)"><circle cx="33.9" cy="364.4" r="2.2" fill="#2c34e8" fill-opacity="0.74"/><circle cx="26.5" cy="363.0" r="2.2" fill="#2c34e8" fill-opacity="0.80"/><circle cx="96.2" cy="334.3" r="2.3" fill="#2c34e8" fill-opacity="0.60"/><circle cx="45.6" cy="381.2" r="2.1" fill="#2c34e8" fill-opacity="0.84"/><circle cx="32.0" cy="318.4" r="2.3" fill="#2c34e8" fill-opacity="0.87"/><circle cx="17.1" cy="328.6" r="2.4" fill="#2c34e8" fill-opacity="0.92"/><circle cx="42.9" cy="333.7" r="2.3" fill="#2c34e8" fill-opacity="0.65"/><circle cx="70.4" cy="371.1" r="2.3" fill="#2c34e8" fill-opacity="0.88"/><circle cx="40.5" cy="315.0" r="2.5" fill="#2c34e8" fill-opacity="0.69"/><circle cx="68.4" cy="346.4" r="2.2" fill="#2c34e8" fill-opacity="0.82"/><circle cx="72.9" cy="307.9" r="2.7" fill="#2c34e8" fill-opacity="0.79"/><circle cx="53.5" cy="368.0" r="2.1" fill="#2c34e8" fill-opacity="0.56"/><circle cx="17.9" cy="352.2" r="2.2" fill="#2c34e8" fill-opacity="0.62"/><circle cx="59.6" cy="361.0" r="2.1" fill="#2c34e8" fill-opacity="0.57"/><circle cx="54.6" cy="311.4" r="2.5" fill="#2c34e8" fill-opacity="0.91"/><circle cx="28.1" cy="372.5" r="2.2" fill="#2c34e8" fill-opacity="0.94"/><circle cx="31.3" cy="369.2" r="2.4" fill="#2c34e8" fill-opacity="0.87"/><circle cx="45.9" cy="365.5" r="2.7" fill="#2c34e8" fill-opacity="0.93"/><circle cx="68.5" cy="340.8" r="2.1" fill="#2c34e8" fill-opacity="0.67"/><circle cx="57.5" cy="379.5" r="2.5" fill="#2c34e8" fill-opacity="0.93"/><circle cx="39.9" cy="377.6" r="2.2" fill="#2c34e8" fill-opacity="0.67"/><circle cx="89.0" cy="326.2" r="2.6" fill="#2c34e8" fill-opacity="0.60"/><circle cx="52.2" cy="340.8" r="2.3" fill="#2c34e8" fill-opacity="0.68"/><circle cx="63.6" cy="377.3" r="2.5" fill="#2c34e8" fill-opacity="0.92"/><circle cx="50.3" cy="380.3" r="2.2" fill="#2c34e8" fill-opacity="0.85"/><circle cx="93.6" cy="362.8" r="2.5" fill="#2c34e8" fill-opacity="0.88"/><circle cx="62.4" cy="366.7" r="2.4" fill="#2c34e8" fill-opacity="0.92"/><circle cx="47.0" cy="319.4" r="2.3" fill="#2c34e8" fill-opacity="0.72"/><circle cx="23.0" cy="366.8" r="2.2" fill="#2c34e8" fill-opacity="0.86"/><circle cx="55.9" cy="305.3" r="2.4" fill="#2c34e8" fill-opacity="0.66"/><circle cx="47.8" cy="376.3" r="2.2" fill="#2c34e8" fill-opacity="0.84"/><circle cx="89.0" cy="366.9" r="2.5" fill="#2c34e8" fill-opacity="0.83"/><circle cx="58.8" cy="313.8" r="2.3" fill="#2c34e8" fill-opacity="0.74"/><circle cx="35.4" cy="373.9" r="2.2" fill="#2c34e8" fill-opacity="0.83"/><circle cx="76.7" cy="375.0" r="2.1" fill="#2c34e8" fill-opacity="0.74"/><circle cx="28.1" cy="322.4" r="2.6" fill="#2c34e8" fill-opacity="0.82"/><circle cx="94.8" cy="348.3" r="2.2" fill="#2c34e8" fill-opacity="0.64"/><circle cx="94.0" cy="356.1" r="2.6" fill="#2c34e8" fill-opacity="0.81"/><circle cx="70.4" cy="356.3" r="2.6" fill="#2c34e8" fill-opacity="0.90"/><circle cx="63.4" cy="383.4" r="2.4" fill="#2c34e8" fill-opacity="0.91"/><circle cx="81.8" cy="339.4" r="2.5" fill="#2c34e8" fill-opacity="0.68"/><circle cx="24.7" cy="355.9" r="2.3" fill="#2c34e8" fill-opacity="0.58"/><circle cx="74.7" cy="353.1" r="2.3" fill="#2c34e8" fill-opacity="0.93"/><circle cx="73.1" cy="365.7" r="2.2" fill="#2c34e8" fill-opacity="0.78"/><circle cx="80.4" cy="332.4" r="2.2" fill="#2c34e8" fill-opacity="0.58"/><circle cx="65.0" cy="307.0" r="2.5" fill="#2c34e8" fill-opacity="0.65"/><circle cx="79.0" cy="317.0" r="2.1" fill="#2c34e8" fill-opacity="0.61"/><circle cx="41.4" cy="307.9" r="2.5" fill="#2c34e8" fill-opacity="0.78"/><circle cx="83.5" cy="375.4" r="2.1" fill="#2c34e8" fill-opacity="0.64"/><circle cx="84.5" cy="347.5" r="2.7" fill="#2c34e8" fill-opacity="0.64"/><circle cx="51.8" cy="350.2" r="2.4" fill="#2c34e8" fill-opacity="0.72"/><circle cx="67.4" cy="363.1" r="2.6" fill="#2c34e8" fill-opacity="0.79"/><circle cx="100.2" cy="343.4" r="2.6" fill="#2c34e8" fill-opacity="0.76"/><circle cx="35.8" cy="315.9" r="2.2" fill="#2c34e8" fill-opacity="0.62"/><circle cx="52.2" cy="362.2" r="2.1" fill="#2c34e8" fill-opacity="0.88"/><circle cx="62.7" cy="372.4" r="2.2" fill="#2c34e8" fill-opacity="0.56"/><circle cx="69.4" cy="377.7" r="2.7" fill="#2c34e8" fill-opacity="0.63"/><circle cx="44.3" cy="343.4" r="2.6" fill="#2c34e8" fill-opacity="0.58"/><circle cx="44.3" cy="373.2" r="2.4" fill="#2c34e8" fill-opacity="0.64"/><circle cx="99.6" cy="337.5" r="2.6" fill="#2c34e8" fill-opacity="0.80"/><circle cx="54.6" cy="375.4" r="2.5" fill="#2c34e8" fill-opacity="0.85"/><circle cx="21.7" cy="345.9" r="2.6" fill="#2c34e8" fill-opacity="0.69"/><circle cx="29.7" cy="359.6" r="2.5" fill="#2c34e8" fill-opacity="0.73"/><circle cx="57.0" cy="342.0" r="2.2" fill="#2c34e8" fill-opacity="0.88"/><circle cx="20.3" cy="359.1" r="2.5" fill="#2c34e8" fill-opacity="0.88"/><circle cx="38.6" cy="363.2" r="2.2" fill="#2c34e8" fill-opacity="0.77"/><circle cx="30.9" cy="346.3" r="2.4" fill="#2c34e8" fill-opacity="0.84"/><circle cx="51.1" cy="316.0" r="2.1" fill="#2c34e8" fill-opacity="0.69"/><circle cx="46.9" cy="353.1" r="2.4" fill="#2c34e8" fill-opacity="0.58"/><circle cx="30.4" cy="355.0" r="2.4" fill="#2c34e8" fill-opacity="0.84"/><circle cx="68.5" cy="313.3" r="2.4" fill="#2c34e8" fill-opacity="0.81"/><circle cx="56.0" cy="347.4" r="2.5" fill="#2c34e8" fill-opacity="0.64"/><circle cx="76.2" cy="322.1" r="2.3" fill="#2c34e8" fill-opacity="0.95"/><circle cx="50.0" cy="371.2" r="2.3" fill="#2c34e8" fill-opacity="0.72"/><circle cx="89.9" cy="315.7" r="2.2" fill="#2c34e8" fill-opacity="0.64"/><circle cx="28.0" cy="335.0" r="2.2" fill="#2c34e8" fill-opacity="0.92"/><circle cx="41.9" cy="351.3" r="2.5" fill="#2c34e8" fill-opacity="0.90"/><circle cx="48.2" cy="304.4" r="2.7" fill="#2c34e8" fill-opacity="0.79"/><circle cx="33.5" cy="327.3" r="2.7" fill="#2c34e8" fill-opacity="0.76"/><circle cx="50.3" cy="326.8" r="2.4" fill="#2c34e8" fill-opacity="0.93"/><circle cx="41.8" cy="321.1" r="2.6" fill="#2c34e8" fill-opacity="0.93"/><circle cx="68.6" cy="303.7" r="2.4" fill="#2c34e8" fill-opacity="0.86"/><circle cx="57.3" cy="335.0" r="2.3" fill="#2c34e8" fill-opacity="0.95"/><circle cx="77.8" cy="326.6" r="2.7" fill="#2c34e8" fill-opacity="0.67"/><circle cx="39.4" cy="358.0" r="2.7" fill="#2c34e8" fill-opacity="0.62"/><circle cx="83.2" cy="365.3" r="2.2" fill="#2c34e8" fill-opacity="0.84"/><circle cx="68.7" cy="382.3" r="2.3" fill="#2c34e8" fill-opacity="0.76"/><circle cx="80.7" cy="344.8" r="2.5" fill="#2c34e8" fill-opacity="0.57"/><circle cx="17.2" cy="344.3" r="2.5" fill="#2c34e8" fill-opacity="0.66"/><circle cx="93.0" cy="320.9" r="2.4" fill="#2c34e8" fill-opacity="0.69"/><circle cx="78.3" cy="363.9" r="2.5" fill="#2c34e8" fill-opacity="0.85"/><circle cx="77.5" cy="370.3" r="2.3" fill="#2c34e8" fill-opacity="0.59"/><circle cx="84.7" cy="327.7" r="2.3" fill="#2c34e8" fill-opacity="0.71"/><circle cx="35.9" cy="347.8" r="2.1" fill="#2c34e8" fill-opacity="0.61"/><circle cx="42.6" cy="328.9" r="2.6" fill="#2c34e8" fill-opacity="0.83"/><circle cx="85.5" cy="342.9" r="2.7" fill="#2c34e8" fill-opacity="0.94"/><circle cx="83.8" cy="313.2" r="2.6" fill="#2c34e8" fill-opacity="0.70"/><circle cx="57.9" cy="371.9" r="2.2" fill="#2c34e8" fill-opacity="0.67"/><circle cx="56.1" cy="318.3" r="2.4" fill="#2c34e8" fill-opacity="0.76"/><circle cx="73.6" cy="347.4" r="2.4" fill="#2c34e8" fill-opacity="0.69"/><circle cx="97.9" cy="329.8" r="2.6" fill="#2c34e8" fill-opacity="0.66"/><circle cx="38.0" cy="335.7" r="2.4" fill="#2c34e8" fill-opacity="0.90"/><circle cx="83.7" cy="318.5" r="2.6" fill="#2c34e8" fill-opacity="0.67"/><circle cx="90.6" cy="344.2" r="2.2" fill="#2c34e8" fill-opacity="0.87"/><circle cx="94.4" cy="340.1" r="1.9" fill="#2c34e8" fill-opacity="0.95"/><circle cx="22.0" cy="325.2" r="2.6" fill="#2c34e8" fill-opacity="0.95"/><circle cx="60.7" cy="304.5" r="2.8" fill="#2c34e8" fill-opacity="0.95"/><circle cx="58.9" cy="353.8" r="2.7" fill="#2c34e8" fill-opacity="0.95"/><circle cx="53.3" cy="323.0" r="2.0" fill="#2c34e8" fill-opacity="0.95"/><circle cx="87.8" cy="359.5" r="2.8" fill="#2c34e8" fill-opacity="0.95"/><circle cx="87.9" cy="332.2" r="2.7" fill="#2c34e8" fill-opacity="0.95"/><circle cx="81.9" cy="323.4" r="2.5" fill="#2c34e8" fill-opacity="0.95"/><circle cx="63.3" cy="338.8" r="2.7" fill="#2c34e8" fill-opacity="0.95"/><circle cx="23.3" cy="335.7" r="2.7" fill="#2c34e8" fill-opacity="0.95"/><circle cx="32.8" cy="332.8" r="2.4" fill="#2c34e8" fill-opacity="0.95"/><circle cx="89.5" cy="353.9" r="3.0" fill="#2c34e8" fill-opacity="0.95"/><circle cx="45.5" cy="338.5" r="2.6" fill="#2c34e8" fill-opacity="0.95"/><circle cx="28.9" cy="313.7" r="2.9" fill="#2c34e8" fill-opacity="0.95"/><circle cx="49.9" cy="308.8" r="2.7" fill="#2c34e8" fill-opacity="0.95"/><circle cx="65.2" cy="324.3" r="2.9" fill="#2c34e8" fill-opacity="0.95"/><circle cx="63.8" cy="311.8" r="2.0" fill="#2c34e8" fill-opacity="0.95"/><circle cx="77.8" cy="359.1" r="2.9" fill="#2c34e8" fill-opacity="0.95"/><circle cx="44.3" cy="359.0" r="2.7" fill="#2c34e8" fill-opacity="0.95"/><circle cx="89.1" cy="349.2" r="1.9" fill="#2c34e8" fill-opacity="0.95"/><circle cx="68.1" cy="332.4" r="2.0" fill="#2c34e8" fill-opacity="0.95"/><circle cx="64.0" cy="351.2" r="1.9" fill="#2c34e8" fill-opacity="0.95"/><circle cx="78.5" cy="349.8" r="2.0" fill="#2c34e8" fill-opacity="0.95"/><circle cx="74.9" cy="342.2" r="2.6" fill="#2c34e8" fill-opacity="0.95"/><circle cx="26.0" cy="342.1" r="2.1" fill="#2c34e8" fill-opacity="0.95"/><circle cx="74.4" cy="317.4" r="3.0" fill="#2c34e8" fill-opacity="0.95"/><circle cx="37.9" cy="329.8" r="2.4" fill="#2c34e8" fill-opacity="0.95"/><circle cx="47.2" cy="348.2" r="2.7" fill="#2c34e8" fill-opacity="0.95"/><circle cx="63.2" cy="317.4" r="2.0" fill="#2c34e8" fill-opacity="0.95"/><circle cx="37.8" cy="340.4" r="2.5" fill="#2c34e8" fill-opacity="0.95"/><circle cx="73.2" cy="327.7" r="2.5" fill="#2c34e8" fill-opacity="0.95"/><circle cx="88.4" cy="320.5" r="1.9" fill="#2c34e8" fill-opacity="0.95"/><circle cx="93.7" cy="326.2" r="2.6" fill="#2c34e8" fill-opacity="0.95"/><circle cx="62.2" cy="344.3" r="1.9" fill="#2c34e8" fill-opacity="0.95"/><circle cx="45.5" cy="325.1" r="2.8" fill="#2c34e8" fill-opacity="0.95"/><circle cx="51.7" cy="357.2" r="1.8" fill="#2c34e8" fill-opacity="0.95"/><circle cx="48.8" cy="333.0" r="2.6" fill="#2c34e8" fill-opacity="0.95"/><circle cx="98.6" cy="354.2" r="2.7" fill="#2c34e8" fill-opacity="0.95"/><circle cx="46.6" cy="314.7" r="2.2" fill="#2c34e8" fill-opacity="0.95"/><circle cx="19.1" cy="339.7" r="2.3" fill="#2c34e8" fill-opacity="0.95"/><circle cx="40.4" cy="346.9" r="2.1" fill="#2c34e8" fill-opacity="0.95"/><circle cx="64.5" cy="359.0" r="2.6" fill="#2c34e8" fill-opacity="0.95"/><circle cx="31.5" cy="339.3" r="2.2" fill="#2c34e8" fill-opacity="0.95"/><circle cx="59.5" cy="322.9" r="2.4" fill="#2c34e8" fill-opacity="0.95"/><circle cx="75.8" cy="312.2" r="2.4" fill="#2c34e8" fill-opacity="0.95"/><circle cx="37.3" cy="353.6" r="2.2" fill="#2c34e8" fill-opacity="0.95"/><circle cx="19.0" cy="332.9" r="2.9" fill="#2c34e8" fill-opacity="0.95"/><circle cx="74.5" cy="335.7" r="2.4" fill="#2c34e8" fill-opacity="0.95"/><circle cx="36.3" cy="322.8" r="2.7" fill="#2c34e8" fill-opacity="0.95"/><circle cx="60.6" cy="330.0" r="2.8" fill="#2c34e8" fill-opacity="0.95"/><circle cx="26.9" cy="327.8" r="3.0" fill="#2c34e8" fill-opacity="0.95"/><circle cx="88.5" cy="339.3" r="2.0" fill="#2c34e8" fill-opacity="0.95"/><circle cx="25.6" cy="349.9" r="2.2" fill="#2c34e8" fill-opacity="0.95"/><circle cx="82.6" cy="308.3" r="2.3" fill="#2c34e8" fill-opacity="0.95"/><circle cx="33.9" cy="308.6" r="2.0" fill="#2c34e8" fill-opacity="0.95"/><circle cx="26.2" cy="317.1" r="2.5" fill="#2c34e8" fill-opacity="0.95"/><circle cx="70.7" cy="322.6" r="2.4" fill="#2c34e8" fill-opacity="0.95"/><circle cx="82.1" cy="370.0" r="2.4" fill="#2c34e8" fill-opacity="0.95"/><circle cx="97.9" cy="368.1" r="2.7" fill="#2c34e8" fill-opacity="0.95"/><circle cx="38.7" cy="368.0" r="2.5" fill="#2c34e8" fill-opacity="0.95"/><circle cx="84.2" cy="355.3" r="2.4" fill="#2c34e8" fill-opacity="0.95"/><circle cx="99.9" cy="355.8" r="2.3" fill="#2c34e8" fill-opacity="0.95"/><circle cx="54.2" cy="330.8" r="3.0" fill="#2c34e8" fill-opacity="0.95"/><circle cx="12.4" cy="339.0" r="2.6" fill="#2c34e8" fill-opacity="0.90"/></g>
<g id="cG2"><g filter="url(#fR)"><circle cx="28.0" cy="358.6" r="3.1" fill="none" stroke="#4ec02c" stroke-opacity="0.06" stroke-width="1.8"/><circle cx="69.4" cy="340.7" r="2.9" fill="none" stroke="#4ec02c" stroke-opacity="0.03" stroke-width="1.8"/><circle cx="32.5" cy="367.4" r="3.1" fill="none" stroke="#4ec02c" stroke-opacity="0.02" stroke-width="1.8"/><circle cx="84.6" cy="343.6" r="2.7" fill="none" stroke="#4ec02c" stroke-opacity="0.02" stroke-width="1.8"/><circle cx="57.9" cy="320.1" r="3.0" fill="none" stroke="#4ec02c" stroke-opacity="0.02" stroke-width="1.8"/><circle cx="65.0" cy="305.9" r="2.6" fill="none" stroke="#4ec02c" stroke-opacity="0.05" stroke-width="1.8"/><circle cx="83.4" cy="319.7" r="3.4" fill="none" stroke="#4ec02c" stroke-opacity="0.02" stroke-width="1.8"/><circle cx="90.5" cy="352.4" r="3.1" fill="none" stroke="#4ec02c" stroke-opacity="0.03" stroke-width="1.8"/><circle cx="57.3" cy="309.8" r="3.3" fill="none" stroke="#4ec02c" stroke-opacity="0.04" stroke-width="1.8"/><circle cx="97.3" cy="331.3" r="2.7" fill="none" stroke="#4ec02c" stroke-opacity="0.02" stroke-width="1.8"/><circle cx="27.1" cy="369.5" r="2.4" fill="none" stroke="#4ec02c" stroke-opacity="0.03" stroke-width="1.8"/><circle cx="53.4" cy="346.9" r="2.8" fill="none" stroke="#4ec02c" stroke-opacity="0.02" stroke-width="1.8"/><circle cx="43.7" cy="341.2" r="2.8" fill="none" stroke="#4ec02c" stroke-opacity="0.02" stroke-width="1.8"/><circle cx="89.7" cy="320.0" r="3.2" fill="none" stroke="#4ec02c" stroke-opacity="0.01" stroke-width="1.8"/><circle cx="79.9" cy="364.8" r="3.4" fill="none" stroke="#4ec02c" stroke-opacity="0.03" stroke-width="1.8"/><circle cx="64.6" cy="362.0" r="3.0" fill="none" stroke="#4ec02c" stroke-opacity="0.03" stroke-width="1.8"/><circle cx="24.3" cy="340.5" r="3.2" fill="none" stroke="#4ec02c" stroke-opacity="0.05" stroke-width="1.8"/><circle cx="49.5" cy="331.0" r="3.0" fill="none" stroke="#4ec02c" stroke-opacity="0.03" stroke-width="1.8"/><circle cx="57.1" cy="341.8" r="3.1" fill="none" stroke="#4ec02c" stroke-opacity="0.05" stroke-width="1.8"/><circle cx="33.0" cy="351.8" r="2.8" fill="none" stroke="#4ec02c" stroke-opacity="0.05" stroke-width="1.8"/><circle cx="62.5" cy="352.9" r="3.4" fill="none" stroke="#4ec02c" stroke-opacity="0.03" stroke-width="1.8"/><circle cx="29.4" cy="314.5" r="2.6" fill="none" stroke="#4ec02c" stroke-opacity="0.02" stroke-width="1.8"/><circle cx="44.1" cy="378.8" r="3.1" fill="none" stroke="#4ec02c" stroke-opacity="0.04" stroke-width="1.8"/><circle cx="44.0" cy="350.8" r="3.4" fill="none" stroke="#4ec02c" stroke-opacity="0.05" stroke-width="1.8"/><circle cx="40.5" cy="308.8" r="2.6" fill="none" stroke="#4ec02c" stroke-opacity="0.02" stroke-width="1.8"/><circle cx="81.9" cy="331.9" r="2.7" fill="none" stroke="#4ec02c" stroke-opacity="0.02" stroke-width="1.8"/><circle cx="73.6" cy="357.5" r="3.1" fill="none" stroke="#4ec02c" stroke-opacity="0.05" stroke-width="1.8"/><circle cx="98.1" cy="350.2" r="3.3" fill="none" stroke="#4ec02c" stroke-opacity="0.02" stroke-width="1.8"/><circle cx="91.2" cy="341.7" r="3.3" fill="none" stroke="#4ec02c" stroke-opacity="0.02" stroke-width="1.8"/><circle cx="46.5" cy="321.0" r="2.8" fill="none" stroke="#4ec02c" stroke-opacity="0.05" stroke-width="1.8"/><circle cx="36.2" cy="324.6" r="2.5" fill="none" stroke="#4ec02c" stroke-opacity="0.01" stroke-width="1.8"/><circle cx="50.4" cy="314.5" r="3.2" fill="none" stroke="#4ec02c" stroke-opacity="0.02" stroke-width="1.8"/><circle cx="19.6" cy="328.7" r="2.8" fill="none" stroke="#4ec02c" stroke-opacity="0.04" stroke-width="1.8"/><circle cx="79.1" cy="340.7" r="3.1" fill="none" stroke="#4ec02c" stroke-opacity="0.01" stroke-width="1.8"/><circle cx="87.3" cy="367.6" r="2.7" fill="none" stroke="#4ec02c" stroke-opacity="0.03" stroke-width="1.8"/><circle cx="88.2" cy="326.2" r="2.9" fill="none" stroke="#4ec02c" stroke-opacity="0.02" stroke-width="1.8"/><circle cx="15.6" cy="350.5" r="3.0" fill="none" stroke="#4ec02c" stroke-opacity="0.06" stroke-width="1.8"/><circle cx="70.2" cy="372.4" r="2.8" fill="none" stroke="#4ec02c" stroke-opacity="0.04" stroke-width="1.8"/><circle cx="64.9" cy="321.9" r="2.5" fill="none" stroke="#4ec02c" stroke-opacity="0.02" stroke-width="1.8"/><circle cx="49.2" cy="381.5" r="3.1" fill="none" stroke="#4ec02c" stroke-opacity="0.01" stroke-width="1.8"/><circle cx="15.7" cy="338.0" r="3.3" fill="none" stroke="#4ec02c" stroke-opacity="0.06" stroke-width="1.8"/><circle cx="71.2" cy="310.8" r="2.5" fill="none" stroke="#4ec02c" stroke-opacity="0.06" stroke-width="1.8"/><circle cx="60.9" cy="327.6" r="2.8" fill="none" stroke="#4ec02c" stroke-opacity="0.05" stroke-width="1.8"/><circle cx="46.7" cy="360.3" r="3.2" fill="none" stroke="#4ec02c" stroke-opacity="0.02" stroke-width="1.8"/><circle cx="76.1" cy="374.3" r="3.1" fill="none" stroke="#4ec02c" stroke-opacity="0.04" stroke-width="1.8"/><circle cx="35.8" cy="359.2" r="3.2" fill="none" stroke="#4ec02c" stroke-opacity="0.02" stroke-width="1.8"/><circle cx="59.8" cy="347.7" r="3.2" fill="none" stroke="#4ec02c" stroke-opacity="0.06" stroke-width="1.8"/><circle cx="59.0" cy="333.1" r="3.1" fill="none" stroke="#4ec02c" stroke-opacity="0.04" stroke-width="1.8"/><circle cx="85.4" cy="361.5" r="2.5" fill="none" stroke="#4ec02c" stroke-opacity="0.03" stroke-width="1.8"/><circle cx="69.1" cy="381.9" r="2.8" fill="none" stroke="#4ec02c" stroke-opacity="0.05" stroke-width="1.8"/><circle cx="56.8" cy="361.0" r="3.1" fill="none" stroke="#4ec02c" stroke-opacity="0.04" stroke-width="1.8"/><circle cx="75.4" cy="317.5" r="2.6" fill="none" stroke="#4ec02c" stroke-opacity="0.04" stroke-width="1.8"/><circle cx="35.9" cy="371.9" r="3.0" fill="none" stroke="#4ec02c" stroke-opacity="0.02" stroke-width="1.8"/><circle cx="37.9" cy="332.2" r="3.3" fill="none" stroke="#4ec02c" stroke-opacity="0.04" stroke-width="1.8"/><circle cx="96.3" cy="339.7" r="2.5" fill="none" stroke="#4ec02c" stroke-opacity="0.06" stroke-width="1.8"/><circle cx="51.9" cy="352.5" r="2.5" fill="none" stroke="#4ec02c" stroke-opacity="0.02" stroke-width="1.8"/><circle cx="38.2" cy="314.8" r="3.1" fill="none" stroke="#4ec02c" stroke-opacity="0.04" stroke-width="1.8"/><circle cx="95.8" cy="359.9" r="3.0" fill="none" stroke="#4ec02c" stroke-opacity="0.04" stroke-width="1.8"/><circle cx="53.5" cy="376.0" r="2.9" fill="none" stroke="#4ec02c" stroke-opacity="0.02" stroke-width="1.8"/><circle cx="46.1" cy="311.5" r="2.6" fill="none" stroke="#4ec02c" stroke-opacity="0.01" stroke-width="1.8"/><circle cx="60.1" cy="304.2" r="3.1" fill="none" stroke="#4ec02c" stroke-opacity="0.05" stroke-width="1.8"/><circle cx="30.0" cy="334.3" r="2.9" fill="none" stroke="#4ec02c" stroke-opacity="0.05" stroke-width="1.8"/><circle cx="85.2" cy="351.6" r="2.8" fill="none" stroke="#4ec02c" stroke-opacity="0.02" stroke-width="1.8"/><circle cx="19.5" cy="343.5" r="2.8" fill="none" stroke="#4ec02c" stroke-opacity="0.06" stroke-width="1.8"/><circle cx="60.4" cy="377.2" r="2.4" fill="none" stroke="#4ec02c" stroke-opacity="0.03" stroke-width="1.8"/><circle cx="95.4" cy="345.6" r="2.6" fill="none" stroke="#4ec02c" stroke-opacity="0.05" stroke-width="1.8"/><circle cx="91.2" cy="330.8" r="2.8" fill="none" stroke="#4ec02c" stroke-opacity="0.02" stroke-width="1.8"/><circle cx="20.8" cy="334.5" r="2.8" fill="none" stroke="#4ec02c" stroke-opacity="0.04" stroke-width="1.8"/><circle cx="29.2" cy="345.9" r="3.2" fill="none" stroke="#4ec02c" stroke-opacity="0.03" stroke-width="1.8"/><circle cx="24.3" cy="320.4" r="3.2" fill="none" stroke="#4ec02c" stroke-opacity="0.01" stroke-width="1.8"/><circle cx="70.8" cy="321.5" r="2.7" fill="none" stroke="#4ec02c" stroke-opacity="0.01" stroke-width="1.8"/><circle cx="65.1" cy="368.2" r="2.5" fill="none" stroke="#4ec02c" stroke-opacity="0.05" stroke-width="1.8"/><circle cx="72.0" cy="349.4" r="3.1" fill="none" stroke="#4ec02c" stroke-opacity="0.02" stroke-width="1.8"/><circle cx="46.1" cy="370.2" r="2.6" fill="none" stroke="#4ec02c" stroke-opacity="0.03" stroke-width="1.8"/><circle cx="74.8" cy="335.2" r="3.1" fill="none" stroke="#4ec02c" stroke-opacity="0.05" stroke-width="1.8"/><circle cx="77.3" cy="350.5" r="3.1" fill="none" stroke="#4ec02c" stroke-opacity="0.04" stroke-width="1.8"/><circle cx="69.5" cy="354.0" r="2.5" fill="none" stroke="#4ec02c" stroke-opacity="0.03" stroke-width="1.8"/><circle cx="42.3" cy="327.9" r="2.6" fill="none" stroke="#4ec02c" stroke-opacity="0.04" stroke-width="1.8"/><circle cx="32.9" cy="309.5" r="3.0" fill="none" stroke="#4ec02c" stroke-opacity="0.02" stroke-width="1.8"/><circle cx="64.5" cy="315.5" r="2.7" fill="none" stroke="#4ec02c" stroke-opacity="0.05" stroke-width="1.8"/><circle cx="27.9" cy="329.0" r="2.4" fill="none" stroke="#4ec02c" stroke-opacity="0.05" stroke-width="1.8"/><circle cx="23.4" cy="356.3" r="3.3" fill="none" stroke="#4ec02c" stroke-opacity="0.06" stroke-width="1.8"/><circle cx="52.4" cy="319.7" r="2.8" fill="none" stroke="#4ec02c" stroke-opacity="0.04" stroke-width="1.8"/><circle cx="73.3" cy="365.6" r="3.0" fill="none" stroke="#4ec02c" stroke-opacity="0.04" stroke-width="1.8"/><circle cx="83.0" cy="374.1" r="3.4" fill="none" stroke="#4ec02c" stroke-opacity="0.04" stroke-width="1.8"/><circle cx="39.5" cy="337.9" r="2.7" fill="none" stroke="#4ec02c" stroke-opacity="0.05" stroke-width="1.8"/><circle cx="68.5" cy="326.6" r="2.9" fill="none" stroke="#4ec02c" stroke-opacity="0.04" stroke-width="1.8"/><circle cx="38.0" cy="366.6" r="3.1" fill="none" stroke="#4ec02c" stroke-opacity="0.01" stroke-width="1.8"/><circle cx="80.5" cy="308.3" r="3.2" fill="none" stroke="#4ec02c" stroke-opacity="0.04" stroke-width="1.8"/><circle cx="95.2" cy="326.2" r="2.9" fill="none" stroke="#4ec02c" stroke-opacity="0.04" stroke-width="1.8"/><circle cx="66.8" cy="333.9" r="2.9" fill="none" stroke="#4ec02c" stroke-opacity="0.02" stroke-width="1.8"/><circle cx="52.3" cy="363.7" r="2.9" fill="none" stroke="#4ec02c" stroke-opacity="0.01" stroke-width="1.8"/><circle cx="41.1" cy="322.2" r="2.9" fill="none" stroke="#4ec02c" stroke-opacity="0.04" stroke-width="1.8"/><circle cx="31.3" cy="320.4" r="2.8" fill="none" stroke="#4ec02c" stroke-opacity="0.04" stroke-width="1.8"/><circle cx="73.9" cy="326.8" r="3.4" fill="none" stroke="#4ec02c" stroke-opacity="0.06" stroke-width="1.8"/><circle cx="77.2" cy="322.6" r="2.5" fill="none" stroke="#4ec02c" stroke-opacity="0.05" stroke-width="1.8"/><circle cx="51.1" cy="304.9" r="3.0" fill="none" stroke="#4ec02c" stroke-opacity="0.01" stroke-width="1.8"/><circle cx="21.7" cy="349.5" r="2.8" fill="none" stroke="#4ec02c" stroke-opacity="0.02" stroke-width="1.8"/><circle cx="41.2" cy="360.0" r="2.5" fill="none" stroke="#4ec02c" stroke-opacity="0.04" stroke-width="1.8"/><circle cx="59.5" cy="367.2" r="3.3" fill="none" stroke="#4ec02c" stroke-opacity="0.02" stroke-width="1.8"/><circle cx="35.6" cy="341.3" r="3.3" fill="none" stroke="#4ec02c" stroke-opacity="0.05" stroke-width="1.8"/><circle cx="41.1" cy="373.5" r="2.5" fill="none" stroke="#4ec02c" stroke-opacity="0.05" stroke-width="1.8"/><circle cx="83.9" cy="313.3" r="3.0" fill="none" stroke="#4ec02c" stroke-opacity="0.06" stroke-width="1.8"/><circle cx="58.6" cy="382.9" r="3.1" fill="none" stroke="#4ec02c" stroke-opacity="0.05" stroke-width="1.8"/><circle cx="23.6" cy="364.9" r="2.7" fill="none" stroke="#4ec02c" stroke-opacity="0.05" stroke-width="1.8"/><circle cx="82.2" cy="326.4" r="3.3" fill="none" stroke="#4ec02c" stroke-opacity="0.05" stroke-width="1.8"/><circle cx="44.9" cy="333.7" r="2.8" fill="none" stroke="#4ec02c" stroke-opacity="0.05" stroke-width="1.8"/><circle cx="62.7" cy="338.4" r="2.9" fill="none" stroke="#4ec02c" stroke-opacity="0.01" stroke-width="1.8"/><circle cx="40.4" cy="354.6" r="2.4" fill="none" stroke="#4ec02c" stroke-opacity="0.01" stroke-width="1.8"/><circle cx="76.2" cy="345.2" r="2.6" fill="none" stroke="#4ec02c" stroke-opacity="0.01" stroke-width="1.8"/><circle cx="55.7" cy="327.6" r="2.9" fill="none" stroke="#4ec02c" stroke-opacity="0.05" stroke-width="1.8"/><circle cx="37.8" cy="346.8" r="2.9" fill="none" stroke="#4ec02c" stroke-opacity="0.03" stroke-width="1.8"/><circle cx="92.0" cy="364.1" r="3.0" fill="none" stroke="#4ec02c" stroke-opacity="0.02" stroke-width="1.8"/><circle cx="85.9" cy="335.3" r="2.9" fill="none" stroke="#4ec02c" stroke-opacity="0.05" stroke-width="1.8"/><circle cx="75.3" cy="306.3" r="2.8" fill="none" stroke="#4ec02c" stroke-opacity="0.02" stroke-width="1.8"/><circle cx="19.2" cy="360.0" r="3.3" fill="none" stroke="#4ec02c" stroke-opacity="0.05" stroke-width="1.8"/><circle cx="50.2" cy="339.1" r="2.8" fill="none" stroke="#4ec02c" stroke-opacity="0.03" stroke-width="1.8"/><circle cx="66.8" cy="347.3" r="2.9" fill="none" stroke="#4ec02c" stroke-opacity="0.04" stroke-width="1.8"/><circle cx="66.1" cy="375.9" r="2.6" fill="none" stroke="#4ec02c" stroke-opacity="0.01" stroke-width="1.8"/><circle cx="55.9" cy="371.0" r="2.6" fill="none" stroke="#4ec02c" stroke-opacity="0.05" stroke-width="1.8"/><circle cx="35.0" cy="377.0" r="2.5" fill="none" stroke="#4ec02c" stroke-opacity="0.03" stroke-width="1.8"/><circle cx="57.5" cy="354.7" r="2.6" fill="none" stroke="#4ec02c" stroke-opacity="0.02" stroke-width="1.8"/><circle cx="79.9" cy="359.2" r="2.6" fill="none" stroke="#4ec02c" stroke-opacity="0.03" stroke-width="1.8"/><circle cx="43.5" cy="304.0" r="2.6" fill="none" stroke="#4ec02c" stroke-opacity="0.01" stroke-width="1.8"/><circle cx="54.8" cy="336.4" r="2.5" fill="none" stroke="#4ec02c" stroke-opacity="0.02" stroke-width="1.8"/><circle cx="51.2" cy="324.9" r="2.9" fill="none" stroke="#4ec02c" stroke-opacity="0.01" stroke-width="1.8"/><circle cx="90.5" cy="358.8" r="2.4" fill="none" stroke="#4ec02c" stroke-opacity="0.03" stroke-width="1.8"/><circle cx="33.4" cy="329.2" r="2.8" fill="none" stroke="#4ec02c" stroke-opacity="0.05" stroke-width="1.8"/><circle cx="47.5" cy="346.2" r="2.5" fill="none" stroke="#4ec02c" stroke-opacity="0.03" stroke-width="1.8"/><circle cx="26.7" cy="352.2" r="2.8" fill="none" stroke="#4ec02c" stroke-opacity="0.01" stroke-width="1.8"/><circle cx="52.1" cy="358.3" r="3.4" fill="none" stroke="#4ec02c" stroke-opacity="0.02" stroke-width="1.8"/><circle cx="22.2" cy="309.3" r="3.5" fill="#a8e060" fill-opacity="0.65"/><circle cx="18.8" cy="320.2" r="4.5" fill="#a8e060" fill-opacity="0.65"/><circle cx="26.3" cy="316.1" r="4.0" fill="#a8e060" fill-opacity="0.62"/><circle cx="30.4" cy="308.0" r="3.8" fill="#a8e060" fill-opacity="0.45"/><circle cx="35.1" cy="304.5" r="3.5" fill="#a8e060" fill-opacity="0.39"/><circle cx="43.3" cy="300.5" r="3.5" fill="#a8e060" fill-opacity="0.36"/><circle cx="61.1" cy="301.8" r="3.8" fill="#a8e060" fill-opacity="0.62"/><circle cx="26.3" cy="330.5" r="4.0" fill="#a8e060" fill-opacity="0.59"/><circle cx="36.5" cy="334.6" r="4.0" fill="#a8e060" fill-opacity="0.59"/><circle cx="30.4" cy="338.0" r="3.5" fill="#a8e060" fill-opacity="0.39"/><circle cx="12.6" cy="339.3" r="3.6" fill="#a8e060" fill-opacity="0.62"/><circle cx="29.7" cy="346.8" r="4.0" fill="#a8e060" fill-opacity="0.62"/><circle cx="42.7" cy="326.4" r="3.5" fill="#a8e060" fill-opacity="0.39"/><circle cx="39.2" cy="318.2" r="3.5" fill="#a8e060" fill-opacity="0.26"/><circle cx="50.1" cy="315.5" r="3.5" fill="#a8e060" fill-opacity="0.26"/><circle cx="67.4" cy="308.6" r="3.8" fill="#a8e060" fill-opacity="0.49"/><circle cx="74.2" cy="308.6" r="3.5" fill="#a8e060" fill-opacity="0.26"/><circle cx="75.6" cy="322.3" r="4.0" fill="#a8e060" fill-opacity="0.59"/><circle cx="83.1" cy="315.5" r="3.5" fill="#a8e060" fill-opacity="0.39"/><circle cx="85.1" cy="322.3" r="3.5" fill="#a8e060" fill-opacity="0.39"/><circle cx="92.0" cy="331.8" r="3.8" fill="#a8e060" fill-opacity="0.39"/><circle cx="68.8" cy="334.6" r="4.0" fill="#a8e060" fill-opacity="0.59"/><circle cx="100.2" cy="340.0" r="4.0" fill="#a8e060" fill-opacity="0.59"/><circle cx="77.0" cy="346.8" r="3.5" fill="#a8e060" fill-opacity="0.39"/><circle cx="19.5" cy="355.2" r="3.5" fill="#a8e060" fill-opacity="0.33"/><circle cx="24.2" cy="365.5" r="4.0" fill="#a8e060" fill-opacity="0.62"/><circle cx="36.5" cy="369.6" r="4.2" fill="#a8e060" fill-opacity="0.62"/><circle cx="46.1" cy="381.8" r="4.0" fill="#a8e060" fill-opacity="0.62"/><circle cx="57.0" cy="375.0" r="4.0" fill="#a8e060" fill-opacity="0.55"/><circle cx="31.1" cy="358.6" r="3.5" fill="#a8e060" fill-opacity="0.26"/><circle cx="47.5" cy="357.3" r="3.5" fill="#a8e060" fill-opacity="0.36"/><circle cx="62.5" cy="350.5" r="3.5" fill="#a8e060" fill-opacity="0.26"/><circle cx="97.5" cy="368.2" r="4.6" fill="#a8e060" fill-opacity="0.65"/><circle cx="48.5" cy="299.0" r="3.6" fill="#a8e060" fill-opacity="0.52"/><circle cx="54.5" cy="304.0" r="3.4" fill="#a8e060" fill-opacity="0.39"/><circle cx="14.5" cy="330.0" r="3.8" fill="#a8e060" fill-opacity="0.45"/><circle cx="20.5" cy="340.0" r="3.5" fill="#a8e060" fill-opacity="0.39"/><circle cx="16.5" cy="350.0" r="3.6" fill="#a8e060" fill-opacity="0.45"/><circle cx="38.5" cy="310.0" r="3.6" fill="#a8e060" fill-opacity="0.39"/><circle cx="45.5" cy="311.0" r="3.4" fill="#a8e060" fill-opacity="0.33"/><circle cx="32.5" cy="323.0" r="3.6" fill="#a8e060" fill-opacity="0.39"/><circle cx="52.5" cy="327.0" r="3.4" fill="#a8e060" fill-opacity="0.33"/><circle cx="59.5" cy="318.0" r="3.5" fill="#a8e060" fill-opacity="0.39"/><circle cx="86.5" cy="302.0" r="3.4" fill="#a8e060" fill-opacity="0.33"/><circle cx="103.5" cy="358.0" r="3.6" fill="#a8e060" fill-opacity="0.45"/><circle cx="91.5" cy="362.0" r="3.5" fill="#a8e060" fill-opacity="0.39"/><circle cx="52.5" cy="389.0" r="3.5" fill="#a8e060" fill-opacity="0.45"/><circle cx="64.5" cy="386.0" r="3.5" fill="#a8e060" fill-opacity="0.39"/><circle cx="89.2" cy="377.7" r="4.0" fill="#a8e060" fill-opacity="0.62"/><circle cx="74.2" cy="377.1" r="4.0" fill="#a8e060" fill-opacity="0.55"/><circle cx="60.6" cy="373.6" r="4.0" fill="#a8e060" fill-opacity="0.55"/><circle cx="101.5" cy="350.5" r="3.8" fill="#a8e060" fill-opacity="0.39"/><circle cx="68.8" cy="357.3" r="3.0" fill="#a8e060" fill-opacity="0.55"/><circle cx="78.3" cy="347.7" r="3.5" fill="#a8e060" fill-opacity="0.39"/><circle cx="62.0" cy="350.5" r="3.5" fill="#a8e060" fill-opacity="0.36"/><circle cx="83.8" cy="355.9" r="3.5" fill="#a8e060" fill-opacity="0.26"/><circle cx="36.5" cy="348.0" r="3.6" fill="#a8e060" fill-opacity="0.39"/></g><g filter="url(#fH)"><circle cx="23.2" cy="309.9" r="1.3" fill="#000" fill-opacity="0.20"/><circle cx="19.9" cy="319.8" r="1.7" fill="#000" fill-opacity="0.20"/><circle cx="27.0" cy="317.1" r="1.5" fill="#000" fill-opacity="0.20"/><circle cx="30.3" cy="306.8" r="1.4" fill="#000" fill-opacity="0.20"/><circle cx="35.7" cy="303.5" r="1.3" fill="#000" fill-opacity="0.20"/><circle cx="43.3" cy="299.3" r="1.3" fill="#000" fill-opacity="0.20"/><circle cx="60.7" cy="302.9" r="1.4" fill="#000" fill-opacity="0.20"/><circle cx="25.6" cy="331.5" r="1.5" fill="#000" fill-opacity="0.20"/><circle cx="36.3" cy="333.4" r="1.5" fill="#000" fill-opacity="0.20"/><circle cx="31.6" cy="337.7" r="1.3" fill="#000" fill-opacity="0.20"/><circle cx="12.0" cy="338.3" r="1.4" fill="#000" fill-opacity="0.20"/><circle cx="28.5" cy="346.5" r="1.5" fill="#000" fill-opacity="0.20"/><circle cx="41.8" cy="327.2" r="1.3" fill="#000" fill-opacity="0.20"/><circle cx="38.2" cy="318.9" r="1.3" fill="#000" fill-opacity="0.20"/><circle cx="49.9" cy="314.3" r="1.3" fill="#000" fill-opacity="0.20"/><circle cx="66.3" cy="309.1" r="1.4" fill="#000" fill-opacity="0.20"/><circle cx="73.0" cy="308.3" r="1.3" fill="#000" fill-opacity="0.20"/><circle cx="74.8" cy="321.4" r="1.5" fill="#000" fill-opacity="0.20"/><circle cx="82.3" cy="314.6" r="1.3" fill="#000" fill-opacity="0.20"/><circle cx="86.3" cy="322.6" r="1.3" fill="#000" fill-opacity="0.20"/><circle cx="92.1" cy="333.0" r="1.4" fill="#000" fill-opacity="0.20"/><circle cx="68.5" cy="333.4" r="1.5" fill="#000" fill-opacity="0.20"/><circle cx="99.1" cy="339.5" r="1.5" fill="#000" fill-opacity="0.20"/><circle cx="77.6" cy="345.8" r="1.3" fill="#000" fill-opacity="0.20"/><circle cx="20.6" cy="355.6" r="1.3" fill="#000" fill-opacity="0.20"/><circle cx="24.3" cy="366.7" r="1.5" fill="#000" fill-opacity="0.20"/><circle cx="35.3" cy="369.6" r="1.6" fill="#000" fill-opacity="0.20"/><circle cx="46.1" cy="380.6" r="1.5" fill="#000" fill-opacity="0.20"/><circle cx="57.4" cy="376.1" r="1.5" fill="#000" fill-opacity="0.20"/><circle cx="31.2" cy="357.4" r="1.3" fill="#000" fill-opacity="0.20"/><circle cx="46.5" cy="357.9" r="1.3" fill="#000" fill-opacity="0.20"/><circle cx="62.1" cy="351.6" r="1.3" fill="#000" fill-opacity="0.20"/><circle cx="98.1" cy="367.1" r="1.7" fill="#000" fill-opacity="0.20"/><circle cx="49.4" cy="299.7" r="1.4" fill="#000" fill-opacity="0.20"/><circle cx="55.6" cy="303.5" r="1.3" fill="#000" fill-opacity="0.20"/><circle cx="14.1" cy="331.1" r="1.4" fill="#000" fill-opacity="0.20"/><circle cx="19.7" cy="340.9" r="1.3" fill="#000" fill-opacity="0.20"/><circle cx="16.8" cy="351.1" r="1.4" fill="#000" fill-opacity="0.20"/><circle cx="37.3" cy="310.2" r="1.4" fill="#000" fill-opacity="0.20"/><circle cx="46.2" cy="310.0" r="1.3" fill="#000" fill-opacity="0.20"/><circle cx="32.7" cy="324.2" r="1.4" fill="#000" fill-opacity="0.20"/><circle cx="51.4" cy="326.6" r="1.3" fill="#000" fill-opacity="0.20"/><circle cx="58.4" cy="318.4" r="1.3" fill="#000" fill-opacity="0.20"/><circle cx="86.1" cy="303.1" r="1.3" fill="#000" fill-opacity="0.20"/><circle cx="104.3" cy="358.9" r="1.4" fill="#000" fill-opacity="0.20"/><circle cx="91.1" cy="360.9" r="1.3" fill="#000" fill-opacity="0.20"/><circle cx="51.5" cy="389.6" r="1.3" fill="#000" fill-opacity="0.20"/><circle cx="63.3" cy="386.2" r="1.3" fill="#000" fill-opacity="0.20"/><circle cx="88.2" cy="377.0" r="1.5" fill="#000" fill-opacity="0.20"/><circle cx="75.1" cy="377.8" r="1.5" fill="#000" fill-opacity="0.20"/><circle cx="61.1" cy="372.5" r="1.5" fill="#000" fill-opacity="0.20"/><circle cx="102.4" cy="349.7" r="1.4" fill="#000" fill-opacity="0.20"/><circle cx="68.8" cy="358.5" r="1.1" fill="#000" fill-opacity="0.20"/><circle cx="78.8" cy="346.6" r="1.3" fill="#000" fill-opacity="0.20"/><circle cx="61.6" cy="349.4" r="1.3" fill="#000" fill-opacity="0.20"/><circle cx="83.4" cy="357.0" r="1.3" fill="#000" fill-opacity="0.20"/><circle cx="36.4" cy="349.2" r="1.4" fill="#000" fill-opacity="0.20"/></g></g>
</defs>
<rect x="13" y="272.5" width="113.6" height="126.30000000000001" fill="#000" stroke="none" stroke-width="1" />
<clipPath id="mc0"><rect x="13" y="272.5" width="113.6" height="126.30000000000001"/></clipPath>
<g clip-path="url(#mc0)"><use href="#cR" x="13"/></g>
<rect x="12" y="271.5" width="59" height="26.0" fill="#fff" stroke="none" stroke-width="1" />
<rect x="59.5" y="324.3" width="14.8" height="12.3" fill="none" stroke="#ddd" stroke-width="0.9" />
<rect x="36.8" y="341.1" width="15.0" height="12.7" fill="none" stroke="#ddd" stroke-width="0.9" />
<rect x="17.3" y="332.1" width="14.8" height="13.1" fill="none" stroke="#ddd" stroke-width="0.9" />
<line x1="74.3" y1="329.5" x2="126.6" y2="277.3" stroke="#ddd" stroke-width="0.9"/>
<line x1="51.8" y1="347" x2="126.6" y2="335.9" stroke="#ddd" stroke-width="0.9"/>
<line x1="25.3" y1="345.20000000000005" x2="126.6" y2="395.2" stroke="#ddd" stroke-width="0.9"/>
<rect x="130.2" y="272.8" width="42.2" height="38.4" fill="#000" stroke="none" stroke-width="1" />
<clipPath id="ic00"><rect x="130.2" y="272.8" width="42.2" height="38.4"/></clipPath>
<g clip-path="url(#ic00)"><g filter="url(#fI)"><rect x="126.19999999999999" y="268.8" width="50.2" height="46.4" fill="#8e1616"/><circle cx="153.4" cy="290.1" r="10.1" fill="#200" fill-opacity="0.9" /><circle cx="153.8" cy="290.1" r="5.9" fill="#000" fill-opacity="0.95" /><circle cx="132.3" cy="274.7" r="8.4" fill="#300" fill-opacity="0.7" /><circle cx="170.3" cy="309.3" r="7.6" fill="#300" fill-opacity="0.6" /><circle cx="136.5" cy="295.8" r="6.8" fill="#c82424" fill-opacity="0.8" /><circle cx="142.9" cy="307.4" r="5.9" fill="#c02424" fill-opacity="0.7" /><circle cx="166.1" cy="280.5" r="5.1" fill="#b82222" fill-opacity="0.6" /><circle cx="168.2" cy="295.8" r="5.1" fill="#b02020" fill-opacity="0.6" /><circle cx="165.8" cy="301.9" r="1.7" fill="#000" fill-opacity="0.25" /><circle cx="151.8" cy="288.3" r="2.3" fill="#000" fill-opacity="0.25" /><circle cx="150.3" cy="295.2" r="2.5" fill="#d83030" fill-opacity="0.35" /><circle cx="142.1" cy="301.8" r="2.0" fill="#000" fill-opacity="0.25" /><circle cx="168.6" cy="310.5" r="2.3" fill="#d83030" fill-opacity="0.35" /><circle cx="143.3" cy="300.8" r="2.4" fill="#d83030" fill-opacity="0.35" /><circle cx="150.1" cy="276.7" r="1.7" fill="#d83030" fill-opacity="0.35" /><circle cx="168.7" cy="309.9" r="1.8" fill="#d83030" fill-opacity="0.35" /><circle cx="141.2" cy="303.7" r="1.9" fill="#000" fill-opacity="0.25" /><circle cx="160.6" cy="288.1" r="2.3" fill="#d83030" fill-opacity="0.35" /><circle cx="130.2" cy="291.8" r="2.4" fill="#000" fill-opacity="0.25" /><circle cx="143.9" cy="306.2" r="1.3" fill="#d83030" fill-opacity="0.35" /><circle cx="140.3" cy="310.0" r="2.3" fill="#000" fill-opacity="0.25" /><circle cx="133.6" cy="285.1" r="1.8" fill="#d83030" fill-opacity="0.35" /><circle cx="134.8" cy="294.0" r="2.1" fill="#d83030" fill-opacity="0.35" /><circle cx="164.6" cy="293.5" r="2.5" fill="#d83030" fill-opacity="0.35" /><circle cx="155.0" cy="289.9" r="2.0" fill="#000" fill-opacity="0.25" /><circle cx="154.5" cy="283.9" r="1.3" fill="#000" fill-opacity="0.25" /><circle cx="156.1" cy="298.0" r="1.8" fill="#000" fill-opacity="0.25" /><circle cx="162.2" cy="306.5" r="2.5" fill="#d83030" fill-opacity="0.35" /><circle cx="168.1" cy="308.2" r="1.9" fill="#000" fill-opacity="0.25" /><circle cx="160.0" cy="283.4" r="2.3" fill="#d83030" fill-opacity="0.35" /><circle cx="168.0" cy="295.4" r="2.5" fill="#d83030" fill-opacity="0.35" /><circle cx="149.2" cy="298.2" r="2.6" fill="#d83030" fill-opacity="0.35" /><circle cx="163.7" cy="276.0" r="2.0" fill="#000" fill-opacity="0.25" /><circle cx="156.8" cy="305.3" r="1.4" fill="#d83030" fill-opacity="0.35" /><circle cx="135.1" cy="281.3" r="2.3" fill="#000" fill-opacity="0.25" /><circle cx="164.6" cy="276.7" r="1.2" fill="#d83030" fill-opacity="0.35" /><circle cx="132.1" cy="294.8" r="2.5" fill="#d83030" fill-opacity="0.35" /><circle cx="158.9" cy="273.8" r="2.0" fill="#d83030" fill-opacity="0.35" /><circle cx="154.5" cy="287.8" r="1.6" fill="#d83030" fill-opacity="0.35" /><circle cx="131.7" cy="273.6" r="2.5" fill="#000" fill-opacity="0.25" /><circle cx="135.4" cy="280.9" r="2.3" fill="#d83030" fill-opacity="0.35" /><circle cx="131.2" cy="289.1" r="1.2" fill="#000" fill-opacity="0.25" /><circle cx="139.5" cy="297.6" r="1.6" fill="#000" fill-opacity="0.25" /><circle cx="151.5" cy="274.3" r="1.2" fill="#d83030" fill-opacity="0.35" /><circle cx="138.6" cy="286.6" r="2.2" fill="#d83030" fill-opacity="0.35" /><circle cx="169.0" cy="279.3" r="2.1" fill="#d83030" fill-opacity="0.35" /><circle cx="132.6" cy="298.8" r="2.4" fill="#000" fill-opacity="0.25" /><circle cx="140.8" cy="295.7" r="1.7" fill="#000" fill-opacity="0.25" /><circle cx="150.1" cy="288.5" r="1.9" fill="#d83030" fill-opacity="0.35" /><circle cx="143.3" cy="286.5" r="2.3" fill="#000" fill-opacity="0.25" /><circle cx="153.9" cy="273.3" r="2.2" fill="#000" fill-opacity="0.25" /><circle cx="132.1" cy="283.6" r="1.4" fill="#d83030" fill-opacity="0.35" /><circle cx="145.1" cy="283.9" r="1.6" fill="#d83030" fill-opacity="0.35" /></g></g>
<rect x="130.2" y="316.4" width="42.2" height="37.6" fill="#000" stroke="none" stroke-width="1" />
<clipPath id="ic01"><rect x="130.2" y="316.4" width="42.2" height="37.6"/></clipPath>
<g clip-path="url(#ic01)"><g filter="url(#fI)"><rect x="126.19999999999999" y="312.4" width="50.2" height="45.6" fill="#901616"/><circle cx="151.3" cy="335.2" r="11.8" fill="#d02828" fill-opacity="0.85" /><circle cx="147.9" cy="339.7" r="7.6" fill="#d83030" fill-opacity="0.7" /><circle cx="133.6" cy="320.2" r="9.3" fill="#100" fill-opacity="0.9" /><circle cx="170.3" cy="320.2" r="6.8" fill="#200" fill-opacity="0.8" /><circle cx="133.6" cy="351.0" r="5.9" fill="#400" fill-opacity="0.6" /><circle cx="168.2" cy="348.4" r="5.1" fill="#a01a1a" fill-opacity="0.6" /><circle cx="135.9" cy="348.3" r="2.2" fill="#000" fill-opacity="0.22" /><circle cx="151.1" cy="333.3" r="2.0" fill="#e03434" fill-opacity="0.35" /><circle cx="134.2" cy="317.5" r="2.3" fill="#000" fill-opacity="0.22" /><circle cx="162.4" cy="316.5" r="1.7" fill="#e03434" fill-opacity="0.35" /><circle cx="139.9" cy="351.9" r="2.4" fill="#000" fill-opacity="0.22" /><circle cx="131.3" cy="336.8" r="2.5" fill="#000" fill-opacity="0.22" /><circle cx="139.3" cy="332.3" r="1.0" fill="#000" fill-opacity="0.22" /><circle cx="148.7" cy="335.0" r="1.4" fill="#000" fill-opacity="0.22" /><circle cx="139.4" cy="333.7" r="1.5" fill="#000" fill-opacity="0.22" /><circle cx="165.5" cy="337.3" r="2.0" fill="#000" fill-opacity="0.22" /><circle cx="172.1" cy="348.7" r="1.2" fill="#000" fill-opacity="0.22" /><circle cx="160.6" cy="343.1" r="2.5" fill="#000" fill-opacity="0.22" /><circle cx="165.2" cy="341.6" r="1.5" fill="#e03434" fill-opacity="0.35" /><circle cx="167.4" cy="348.2" r="1.8" fill="#e03434" fill-opacity="0.35" /><circle cx="131.7" cy="325.5" r="2.3" fill="#000" fill-opacity="0.22" /><circle cx="137.5" cy="337.0" r="2.1" fill="#e03434" fill-opacity="0.35" /><circle cx="146.0" cy="332.9" r="1.8" fill="#e03434" fill-opacity="0.35" /><circle cx="152.2" cy="331.2" r="1.8" fill="#000" fill-opacity="0.22" /><circle cx="132.0" cy="342.8" r="2.6" fill="#e03434" fill-opacity="0.35" /><circle cx="146.8" cy="322.8" r="1.8" fill="#e03434" fill-opacity="0.35" /><circle cx="162.7" cy="336.7" r="2.4" fill="#000" fill-opacity="0.22" /><circle cx="151.9" cy="352.2" r="1.9" fill="#000" fill-opacity="0.22" /><circle cx="141.6" cy="337.0" r="2.5" fill="#000" fill-opacity="0.22" /><circle cx="163.3" cy="347.3" r="2.4" fill="#e03434" fill-opacity="0.35" /><circle cx="164.3" cy="335.9" r="1.9" fill="#000" fill-opacity="0.22" /><circle cx="132.6" cy="349.1" r="1.9" fill="#000" fill-opacity="0.22" /><circle cx="151.5" cy="334.6" r="1.6" fill="#000" fill-opacity="0.22" /><circle cx="152.9" cy="339.8" r="2.0" fill="#000" fill-opacity="0.22" /><circle cx="131.4" cy="325.0" r="1.3" fill="#e03434" fill-opacity="0.35" /><circle cx="166.5" cy="346.4" r="2.3" fill="#e03434" fill-opacity="0.35" /><circle cx="141.0" cy="348.0" r="2.1" fill="#000" fill-opacity="0.22" /><circle cx="130.9" cy="316.9" r="2.2" fill="#000" fill-opacity="0.22" /><circle cx="134.8" cy="339.9" r="1.6" fill="#000" fill-opacity="0.22" /><circle cx="136.9" cy="336.2" r="1.3" fill="#000" fill-opacity="0.22" /><circle cx="160.2" cy="333.5" r="1.5" fill="#000" fill-opacity="0.22" /><circle cx="131.2" cy="330.9" r="1.7" fill="#000" fill-opacity="0.22" /><circle cx="134.8" cy="350.2" r="1.8" fill="#000" fill-opacity="0.22" /><circle cx="155.8" cy="347.1" r="1.0" fill="#000" fill-opacity="0.22" /><circle cx="136.4" cy="343.4" r="1.3" fill="#e03434" fill-opacity="0.35" /><circle cx="158.8" cy="336.9" r="1.4" fill="#e03434" fill-opacity="0.35" /><circle cx="163.9" cy="335.8" r="1.4" fill="#e03434" fill-opacity="0.35" /><circle cx="146.9" cy="338.1" r="1.5" fill="#e03434" fill-opacity="0.35" /><circle cx="132.7" cy="327.6" r="2.5" fill="#e03434" fill-opacity="0.35" /><circle cx="143.1" cy="348.7" r="1.5" fill="#e03434" fill-opacity="0.35" /><circle cx="161.6" cy="332.0" r="1.4" fill="#000" fill-opacity="0.22" /></g></g>
<rect x="130.2" y="360.5" width="42.2" height="38.3" fill="#000" stroke="none" stroke-width="1" />
<clipPath id="ic02"><rect x="130.2" y="360.5" width="42.2" height="38.3"/></clipPath>
<g clip-path="url(#ic02)"><g filter="url(#fI)"><rect x="126.19999999999999" y="356.5" width="50.2" height="46.3" fill="#060000"/></g></g>
<rect x="183.5" y="272.5" width="113.6" height="126.30000000000001" fill="#000" stroke="none" stroke-width="1" />
<clipPath id="mc1"><rect x="183.5" y="272.5" width="113.6" height="126.30000000000001"/></clipPath>
<g clip-path="url(#mc1)"><use href="#cG" x="183.5"/></g>
<rect x="182.5" y="271.5" width="68.30000000000001" height="26.0" fill="#fff" stroke="none" stroke-width="1" />
<rect x="230.0" y="324.3" width="14.8" height="12.3" fill="none" stroke="#ddd" stroke-width="0.9" />
<rect x="207.3" y="341.1" width="15.0" height="12.7" fill="none" stroke="#ddd" stroke-width="0.9" />
<rect x="187.8" y="332.1" width="14.8" height="13.1" fill="none" stroke="#ddd" stroke-width="0.9" />
<line x1="244.8" y1="329.5" x2="297.1" y2="277.3" stroke="#ddd" stroke-width="0.9"/>
<line x1="222.3" y1="347" x2="297.1" y2="335.9" stroke="#ddd" stroke-width="0.9"/>
<line x1="195.8" y1="345.20000000000005" x2="297.1" y2="395.2" stroke="#ddd" stroke-width="0.9"/>
<rect x="301.4" y="272.8" width="42.2" height="38.4" fill="#000" stroke="none" stroke-width="1" />
<clipPath id="ic10"><rect x="301.4" y="272.8" width="42.2" height="38.4"/></clipPath>
<g clip-path="url(#ic10)"><g filter="url(#fI)"><rect x="297.4" y="268.8" width="50.2" height="46.4" fill="#18440e"/><circle cx="335.2" cy="284.3" r="6.8" fill="#44a828" fill-opacity="0.65" /><circle cx="322.5" cy="306.6" r="5.9" fill="#44a828" fill-opacity="0.65" /><circle cx="309.8" cy="280.5" r="5.1" fill="#28661a" fill-opacity="0.5" /><circle cx="316.2" cy="292.0" r="5.9" fill="#040e02" fill-opacity="0.6" /><circle cx="328.8" cy="296.6" r="5.1" fill="#061006" fill-opacity="0.5" /><circle cx="305.6" cy="301.6" r="4.2" fill="#2a6a18" fill-opacity="0.5" /><circle cx="325.5" cy="289.3" r="1.9" fill="#000" fill-opacity="0.3" /><circle cx="335.7" cy="304.4" r="2.0" fill="#000" fill-opacity="0.3" /><circle cx="323.4" cy="285.4" r="1.4" fill="#2a7018" fill-opacity="0.3" /><circle cx="343.5" cy="274.5" r="2.4" fill="#2a7018" fill-opacity="0.3" /><circle cx="317.5" cy="283.7" r="2.1" fill="#000" fill-opacity="0.3" /><circle cx="330.3" cy="298.2" r="1.2" fill="#2a7018" fill-opacity="0.3" /><circle cx="342.9" cy="310.0" r="2.0" fill="#000" fill-opacity="0.3" /><circle cx="301.6" cy="277.9" r="2.5" fill="#000" fill-opacity="0.3" /><circle cx="316.9" cy="307.3" r="1.5" fill="#2a7018" fill-opacity="0.3" /><circle cx="319.8" cy="275.3" r="1.9" fill="#2a7018" fill-opacity="0.3" /><circle cx="308.0" cy="281.4" r="1.7" fill="#000" fill-opacity="0.3" /><circle cx="322.4" cy="304.2" r="2.1" fill="#2a7018" fill-opacity="0.3" /><circle cx="337.5" cy="278.5" r="1.9" fill="#000" fill-opacity="0.3" /><circle cx="326.8" cy="277.1" r="2.2" fill="#000" fill-opacity="0.3" /><circle cx="308.4" cy="303.8" r="2.5" fill="#000" fill-opacity="0.3" /><circle cx="318.9" cy="282.2" r="1.4" fill="#2a7018" fill-opacity="0.3" /><circle cx="308.9" cy="277.4" r="1.7" fill="#000" fill-opacity="0.3" /><circle cx="328.8" cy="304.3" r="2.2" fill="#000" fill-opacity="0.3" /><circle cx="316.1" cy="289.5" r="1.0" fill="#2a7018" fill-opacity="0.3" /><circle cx="315.4" cy="285.1" r="1.1" fill="#000" fill-opacity="0.3" /><circle cx="326.0" cy="287.8" r="2.4" fill="#2a7018" fill-opacity="0.3" /><circle cx="311.6" cy="293.0" r="2.5" fill="#2a7018" fill-opacity="0.3" /><circle cx="326.8" cy="275.2" r="1.8" fill="#000" fill-opacity="0.3" /><circle cx="318.3" cy="288.9" r="1.9" fill="#2a7018" fill-opacity="0.3" /><circle cx="322.1" cy="279.2" r="1.7" fill="#2a7018" fill-opacity="0.3" /><circle cx="318.9" cy="274.2" r="1.0" fill="#2a7018" fill-opacity="0.3" /><circle cx="303.5" cy="276.4" r="1.2" fill="#000" fill-opacity="0.3" /><circle cx="343.3" cy="291.4" r="1.7" fill="#000" fill-opacity="0.3" /><circle cx="322.5" cy="290.0" r="2.2" fill="#2a7018" fill-opacity="0.3" /><circle cx="330.9" cy="289.1" r="2.0" fill="#2a7018" fill-opacity="0.3" /><circle cx="307.9" cy="281.9" r="2.0" fill="#2a7018" fill-opacity="0.3" /><circle cx="328.5" cy="295.4" r="2.3" fill="#000" fill-opacity="0.3" /><circle cx="335.5" cy="309.8" r="1.7" fill="#2a7018" fill-opacity="0.3" /><circle cx="331.7" cy="306.9" r="1.1" fill="#2a7018" fill-opacity="0.3" /><circle cx="333.8" cy="309.8" r="2.6" fill="#000" fill-opacity="0.3" /><circle cx="329.7" cy="278.2" r="2.0" fill="#2a7018" fill-opacity="0.3" /><circle cx="309.5" cy="286.2" r="1.1" fill="#000" fill-opacity="0.3" /><circle cx="310.2" cy="276.5" r="2.6" fill="#2a7018" fill-opacity="0.3" /><circle cx="321.0" cy="301.4" r="2.1" fill="#2a7018" fill-opacity="0.3" /><circle cx="319.3" cy="298.3" r="1.9" fill="#000" fill-opacity="0.3" /><circle cx="316.8" cy="296.9" r="2.0" fill="#000" fill-opacity="0.3" /><circle cx="327.1" cy="306.4" r="2.4" fill="#2a7018" fill-opacity="0.3" /><circle cx="304.4" cy="289.1" r="1.1" fill="#000" fill-opacity="0.3" /><circle cx="312.1" cy="290.3" r="2.2" fill="#2a7018" fill-opacity="0.3" /><circle cx="313.3" cy="299.5" r="1.8" fill="#2a7018" fill-opacity="0.3" /></g></g>
<rect x="301.4" y="316.4" width="42.2" height="37.6" fill="#000" stroke="none" stroke-width="1" />
<clipPath id="ic11"><rect x="301.4" y="316.4" width="42.2" height="37.6"/></clipPath>
<g clip-path="url(#ic11)"><g filter="url(#fI)"><rect x="297.4" y="312.4" width="50.2" height="45.6" fill="#0c2608"/><circle cx="327.6" cy="330.7" r="10.1" fill="#4cc82c" fill-opacity="0.85" /><circle cx="322.5" cy="346.5" r="8.4" fill="#44b828" fill-opacity="0.8" /><circle cx="307.7" cy="337.1" r="5.1" fill="#2a7a18" fill-opacity="0.5" /><circle cx="326.7" cy="329.9" r="3.8" fill="#1c5a10" fill-opacity="0.5" /><circle cx="337.3" cy="342.7" r="4.2" fill="#2a8a1a" fill-opacity="0.5" /><circle cx="320.5" cy="337.4" r="2.5" fill="#000" fill-opacity="0.25" /><circle cx="322.8" cy="338.5" r="1.3" fill="#6ae844" fill-opacity="0.3" /><circle cx="328.0" cy="346.2" r="1.2" fill="#000" fill-opacity="0.25" /><circle cx="305.2" cy="346.8" r="2.1" fill="#000" fill-opacity="0.25" /><circle cx="342.8" cy="352.7" r="2.0" fill="#6ae844" fill-opacity="0.3" /><circle cx="308.0" cy="317.0" r="1.8" fill="#000" fill-opacity="0.25" /><circle cx="309.4" cy="325.5" r="1.0" fill="#000" fill-opacity="0.25" /><circle cx="320.0" cy="348.1" r="1.8" fill="#6ae844" fill-opacity="0.3" /><circle cx="322.5" cy="341.3" r="1.7" fill="#000" fill-opacity="0.25" /><circle cx="343.5" cy="353.8" r="2.3" fill="#6ae844" fill-opacity="0.3" /><circle cx="314.7" cy="325.0" r="1.5" fill="#000" fill-opacity="0.25" /><circle cx="333.7" cy="331.5" r="2.4" fill="#000" fill-opacity="0.25" /><circle cx="341.8" cy="348.3" r="1.0" fill="#000" fill-opacity="0.25" /><circle cx="339.8" cy="334.1" r="2.6" fill="#000" fill-opacity="0.25" /><circle cx="304.5" cy="340.1" r="2.2" fill="#000" fill-opacity="0.25" /><circle cx="305.1" cy="328.9" r="2.5" fill="#6ae844" fill-opacity="0.3" /><circle cx="306.4" cy="325.7" r="1.2" fill="#000" fill-opacity="0.25" /><circle cx="335.0" cy="323.1" r="1.9" fill="#000" fill-opacity="0.25" /><circle cx="309.4" cy="343.9" r="1.2" fill="#6ae844" fill-opacity="0.3" /><circle cx="306.3" cy="332.2" r="1.3" fill="#000" fill-opacity="0.25" /><circle cx="342.4" cy="346.6" r="1.5" fill="#6ae844" fill-opacity="0.3" /><circle cx="310.3" cy="331.2" r="2.4" fill="#6ae844" fill-opacity="0.3" /><circle cx="305.6" cy="353.6" r="1.3" fill="#000" fill-opacity="0.25" /><circle cx="334.0" cy="328.8" r="1.5" fill="#000" fill-opacity="0.25" /><circle cx="305.2" cy="338.3" r="1.4" fill="#6ae844" fill-opacity="0.3" /><circle cx="317.1" cy="333.4" r="2.5" fill="#000" fill-opacity="0.25" /><circle cx="325.6" cy="349.0" r="1.3" fill="#000" fill-opacity="0.25" /><circle cx="339.7" cy="347.1" r="1.4" fill="#000" fill-opacity="0.25" /><circle cx="332.6" cy="351.8" r="1.3" fill="#6ae844" fill-opacity="0.3" /><circle cx="338.6" cy="339.1" r="1.7" fill="#000" fill-opacity="0.25" /><circle cx="303.0" cy="352.6" r="1.4" fill="#6ae844" fill-opacity="0.3" /><circle cx="312.2" cy="347.4" r="2.0" fill="#000" fill-opacity="0.25" /><circle cx="308.8" cy="343.5" r="1.1" fill="#000" fill-opacity="0.25" /><circle cx="325.0" cy="348.5" r="2.0" fill="#000" fill-opacity="0.25" /><circle cx="340.1" cy="324.1" r="1.0" fill="#000" fill-opacity="0.25" /><circle cx="320.2" cy="318.7" r="1.3" fill="#000" fill-opacity="0.25" /><circle cx="325.5" cy="321.3" r="1.6" fill="#6ae844" fill-opacity="0.3" /><circle cx="342.8" cy="341.1" r="2.1" fill="#6ae844" fill-opacity="0.3" /><circle cx="307.3" cy="317.7" r="1.0" fill="#6ae844" fill-opacity="0.3" /><circle cx="331.0" cy="352.6" r="1.0" fill="#6ae844" fill-opacity="0.3" /><circle cx="321.8" cy="343.9" r="1.5" fill="#6ae844" fill-opacity="0.3" /><circle cx="304.6" cy="336.9" r="2.2" fill="#6ae844" fill-opacity="0.3" /><circle cx="332.5" cy="342.9" r="2.3" fill="#6ae844" fill-opacity="0.3" /><circle cx="316.2" cy="342.2" r="2.4" fill="#6ae844" fill-opacity="0.3" /><circle cx="319.0" cy="346.1" r="2.4" fill="#6ae844" fill-opacity="0.3" /></g></g>
<rect x="301.4" y="360.5" width="42.2" height="38.3" fill="#000" stroke="none" stroke-width="1" />
<clipPath id="ic12"><rect x="301.4" y="360.5" width="42.2" height="38.3"/></clipPath>
<g clip-path="url(#ic12)"><g filter="url(#fI)"><rect x="297.4" y="356.5" width="50.2" height="46.3" fill="#020a02"/><circle cx="335.2" cy="381.9" r="2.3" fill="#54d830" fill-opacity="0.2" /><circle cx="334.4" cy="385.6" r="2.3" fill="#54d830" fill-opacity="0.2" /><circle cx="332.2" cy="388.8" r="2.3" fill="#54d830" fill-opacity="0.2" /><circle cx="328.9" cy="390.8" r="2.3" fill="#54d830" fill-opacity="0.2" /><circle cx="325.0" cy="391.6" r="2.6" fill="#54d830" fill-opacity="0.39" /><circle cx="321.2" cy="390.8" r="3.0" fill="#54d830" fill-opacity="0.67" /><circle cx="317.9" cy="388.8" r="3.4" fill="#54d830" fill-opacity="0.88" /><circle cx="315.7" cy="385.6" r="3.5" fill="#54d830" fill-opacity="0.99" /><circle cx="314.9" cy="381.9" r="3.5" fill="#54d830" fill-opacity="0.98" /><circle cx="315.7" cy="378.3" r="3.3" fill="#54d830" fill-opacity="0.84" /><circle cx="317.9" cy="375.1" r="3.0" fill="#54d830" fill-opacity="0.61" /><circle cx="321.2" cy="373.1" r="2.5" fill="#54d830" fill-opacity="0.32" /><circle cx="325.0" cy="372.3" r="2.3" fill="#54d830" fill-opacity="0.2" /><circle cx="328.9" cy="373.1" r="2.3" fill="#54d830" fill-opacity="0.2" /><circle cx="332.2" cy="375.1" r="2.3" fill="#54d830" fill-opacity="0.2" /><circle cx="334.4" cy="378.3" r="2.3" fill="#54d830" fill-opacity="0.2" /><circle cx="326.0" cy="381.9" r="5.9" fill="#0e340a" fill-opacity="0.7" /></g></g>
<rect x="355.5" y="272.5" width="113.6" height="126.30000000000001" fill="#000" stroke="none" stroke-width="1" />
<clipPath id="mc2"><rect x="355.5" y="272.5" width="113.6" height="126.30000000000001"/></clipPath>
<g clip-path="url(#mc2)"><g style="isolation:isolate"><use href="#cB" x="356.0"/><use href="#cR2" x="356.0"/><use href="#cG2" x="356.0" style="mix-blend-mode:screen"/></g></g>
<rect x="354.5" y="271.5" width="103.0" height="26.0" fill="#fff" stroke="none" stroke-width="1" />
<rect x="402.5" y="324.3" width="14.8" height="12.3" fill="none" stroke="#ddd" stroke-width="0.9" />
<rect x="379.8" y="341.1" width="15.0" height="12.7" fill="none" stroke="#ddd" stroke-width="0.9" />
<rect x="360.3" y="332.1" width="14.8" height="13.1" fill="none" stroke="#ddd" stroke-width="0.9" />
<line x1="417.3" y1="329.5" x2="469.1" y2="277.3" stroke="#ddd" stroke-width="0.9"/>
<line x1="394.8" y1="347" x2="469.1" y2="335.9" stroke="#ddd" stroke-width="0.9"/>
<line x1="368.3" y1="345.20000000000005" x2="469.1" y2="395.2" stroke="#ddd" stroke-width="0.9"/>
<rect x="475.8" y="272.8" width="42.2" height="38.4" fill="#000" stroke="none" stroke-width="1" />
<clipPath id="ic20"><rect x="475.8" y="272.8" width="42.2" height="38.4"/></clipPath>
<g clip-path="url(#ic20)"><g filter="url(#fI)"><rect x="471.8" y="268.8" width="50.2" height="46.4" fill="#a81c2c"/><circle cx="497.7" cy="292.0" r="10.1" fill="#1c1c90" fill-opacity="1" /><circle cx="499.0" cy="292.8" r="5.5" fill="#0c0c50" fill-opacity="0.9" /><circle cx="479.2" cy="277.4" r="6.8" fill="#3030c0" fill-opacity="0.9" /><circle cx="516.7" cy="284.3" r="5.9" fill="#3434c8" fill-opacity="0.9" /><circle cx="494.8" cy="310.4" r="6.3" fill="#3030c0" fill-opacity="0.8" /><circle cx="514.6" cy="309.3" r="5.1" fill="#3030c0" fill-opacity="0.7" /><circle cx="486.4" cy="290.1" r="4.2" fill="#c82830" fill-opacity="0.7" /><circle cx="509.6" cy="299.7" r="4.2" fill="#c82830" fill-opacity="0.7" /><circle cx="514.0" cy="299.2" r="2.2" fill="#d03030" fill-opacity="0.3" /><circle cx="486.8" cy="297.2" r="2.4" fill="#d03030" fill-opacity="0.3" /><circle cx="500.0" cy="279.3" r="1.7" fill="#d03030" fill-opacity="0.3" /><circle cx="480.2" cy="285.1" r="2.5" fill="#1a1a90" fill-opacity="0.3" /><circle cx="484.6" cy="285.0" r="2.5" fill="#1a1a90" fill-opacity="0.3" /><circle cx="493.8" cy="296.9" r="2.3" fill="#1a1a90" fill-opacity="0.3" /><circle cx="479.2" cy="294.8" r="1.1" fill="#1a1a90" fill-opacity="0.3" /><circle cx="483.8" cy="299.4" r="1.5" fill="#d03030" fill-opacity="0.3" /><circle cx="482.7" cy="277.3" r="1.0" fill="#d03030" fill-opacity="0.3" /><circle cx="512.1" cy="281.2" r="1.4" fill="#1a1a90" fill-opacity="0.3" /><circle cx="503.0" cy="284.3" r="1.2" fill="#d03030" fill-opacity="0.3" /><circle cx="501.1" cy="290.0" r="1.2" fill="#d03030" fill-opacity="0.3" /><circle cx="499.3" cy="289.4" r="1.3" fill="#d03030" fill-opacity="0.3" /><circle cx="512.2" cy="299.3" r="2.6" fill="#d03030" fill-opacity="0.3" /><circle cx="490.3" cy="277.3" r="2.0" fill="#d03030" fill-opacity="0.3" /><circle cx="494.2" cy="310.9" r="2.3" fill="#1a1a90" fill-opacity="0.3" /><circle cx="513.1" cy="272.9" r="2.0" fill="#1a1a90" fill-opacity="0.3" /><circle cx="506.6" cy="309.4" r="1.8" fill="#d03030" fill-opacity="0.3" /><circle cx="478.1" cy="298.4" r="1.2" fill="#1a1a90" fill-opacity="0.3" /><circle cx="489.9" cy="275.6" r="2.2" fill="#1a1a90" fill-opacity="0.3" /><circle cx="486.7" cy="276.1" r="2.1" fill="#1a1a90" fill-opacity="0.3" /><circle cx="477.7" cy="273.8" r="1.4" fill="#d03030" fill-opacity="0.3" /><circle cx="476.3" cy="273.7" r="2.1" fill="#d03030" fill-opacity="0.3" /><circle cx="481.5" cy="284.8" r="1.2" fill="#1a1a90" fill-opacity="0.3" /><circle cx="492.2" cy="281.2" r="1.3" fill="#1a1a90" fill-opacity="0.3" /><circle cx="488.5" cy="294.1" r="2.4" fill="#d03030" fill-opacity="0.3" /><circle cx="494.7" cy="272.9" r="1.3" fill="#d03030" fill-opacity="0.3" /><circle cx="492.9" cy="305.3" r="2.5" fill="#1a1a90" fill-opacity="0.3" /><circle cx="491.2" cy="284.3" r="2.1" fill="#1a1a90" fill-opacity="0.3" /><circle cx="487.5" cy="306.5" r="1.6" fill="#d03030" fill-opacity="0.3" /><circle cx="492.5" cy="304.9" r="1.7" fill="#1a1a90" fill-opacity="0.3" /><circle cx="500.2" cy="280.9" r="2.5" fill="#d03030" fill-opacity="0.3" /><circle cx="498.1" cy="308.2" r="1.9" fill="#d03030" fill-opacity="0.3" /><circle cx="506.0" cy="279.7" r="1.5" fill="#d03030" fill-opacity="0.3" /><circle cx="480.0" cy="310.5" r="1.1" fill="#d03030" fill-opacity="0.3" /><circle cx="501.9" cy="288.4" r="2.0" fill="#d03030" fill-opacity="0.3" /><circle cx="491.0" cy="283.7" r="1.1" fill="#d03030" fill-opacity="0.3" /><circle cx="513.0" cy="287.2" r="2.4" fill="#1a1a90" fill-opacity="0.3" /><circle cx="486.5" cy="303.5" r="2.5" fill="#1a1a90" fill-opacity="0.3" /><circle cx="512.6" cy="285.1" r="2.2" fill="#1a1a90" fill-opacity="0.3" /><circle cx="517.6" cy="285.7" r="1.3" fill="#1a1a90" fill-opacity="0.3" /><circle cx="481.5" cy="276.3" r="2.3" fill="#1a1a90" fill-opacity="0.3" /><circle cx="480.8" cy="282.0" r="1.2" fill="#d03030" fill-opacity="0.3" /><circle cx="476.1" cy="299.0" r="1.6" fill="#1a1a90" fill-opacity="0.3" /><circle cx="485.5" cy="293.0" r="1.4" fill="#1a1a90" fill-opacity="0.3" /></g></g>
<rect x="475.8" y="316.4" width="42.2" height="37.6" fill="#000" stroke="none" stroke-width="1" />
<clipPath id="ic21"><rect x="475.8" y="316.4" width="42.2" height="37.6"/></clipPath>
<g clip-path="url(#ic21)"><g filter="url(#fI)"><rect x="471.8" y="312.4" width="50.2" height="45.6" fill="#2a2ab0"/><circle cx="496.9" cy="339.0" r="12.7" fill="#c84030" fill-opacity="0.95" /><circle cx="488.5" cy="333.3" r="6.8" fill="#c03a38" fill-opacity="0.9" /><circle cx="505.3" cy="333.3" r="7.2" fill="#d04828" fill-opacity="0.9" /><circle cx="499.0" cy="348.4" r="7.6" fill="#c83a30" fill-opacity="0.85" /><circle cx="490.6" cy="342.7" r="5.5" fill="#e09a30" fill-opacity="0.85" /><circle cx="499.0" cy="329.6" r="4.2" fill="#b0a0b0" fill-opacity="0.6" /><circle cx="502.0" cy="339.7" r="3.8" fill="#e0b040" fill-opacity="0.6" /><circle cx="515.9" cy="339.0" r="4.2" fill="#2a2ab8" fill-opacity="0.9" /><circle cx="482.8" cy="342.3" r="2.0" fill="#1a1a90" fill-opacity="0.25" /><circle cx="484.9" cy="346.2" r="2.3" fill="#e06030" fill-opacity="0.3" /><circle cx="497.1" cy="325.3" r="1.0" fill="#1a1a90" fill-opacity="0.25" /><circle cx="500.5" cy="319.0" r="2.3" fill="#1a1a90" fill-opacity="0.25" /><circle cx="485.6" cy="318.0" r="2.6" fill="#e06030" fill-opacity="0.3" /><circle cx="512.7" cy="339.6" r="1.1" fill="#1a1a90" fill-opacity="0.25" /><circle cx="496.8" cy="320.8" r="2.5" fill="#1a1a90" fill-opacity="0.25" /><circle cx="482.3" cy="347.1" r="1.2" fill="#e06030" fill-opacity="0.3" /><circle cx="494.9" cy="337.2" r="1.5" fill="#1a1a90" fill-opacity="0.25" /><circle cx="483.7" cy="317.8" r="2.4" fill="#1a1a90" fill-opacity="0.25" /><circle cx="508.7" cy="324.2" r="2.6" fill="#e06030" fill-opacity="0.3" /><circle cx="507.7" cy="345.1" r="1.9" fill="#e06030" fill-opacity="0.3" /><circle cx="481.0" cy="334.3" r="2.3" fill="#1a1a90" fill-opacity="0.25" /><circle cx="514.8" cy="349.8" r="1.7" fill="#1a1a90" fill-opacity="0.25" /><circle cx="494.8" cy="330.9" r="2.6" fill="#1a1a90" fill-opacity="0.25" /><circle cx="476.9" cy="319.9" r="2.1" fill="#e06030" fill-opacity="0.3" /><circle cx="496.7" cy="334.9" r="1.9" fill="#e06030" fill-opacity="0.3" /><circle cx="485.2" cy="339.3" r="1.9" fill="#e06030" fill-opacity="0.3" /><circle cx="483.4" cy="322.8" r="1.6" fill="#e06030" fill-opacity="0.3" /><circle cx="490.4" cy="338.9" r="1.5" fill="#1a1a90" fill-opacity="0.25" /><circle cx="478.6" cy="347.0" r="2.2" fill="#1a1a90" fill-opacity="0.25" /><circle cx="504.6" cy="341.8" r="2.4" fill="#e06030" fill-opacity="0.3" /><circle cx="493.0" cy="353.6" r="2.5" fill="#e06030" fill-opacity="0.3" /><circle cx="513.1" cy="334.9" r="1.6" fill="#1a1a90" fill-opacity="0.25" /><circle cx="512.8" cy="322.5" r="1.1" fill="#e06030" fill-opacity="0.3" /><circle cx="508.5" cy="334.6" r="2.3" fill="#1a1a90" fill-opacity="0.25" /><circle cx="486.7" cy="327.3" r="1.7" fill="#1a1a90" fill-opacity="0.25" /><circle cx="478.7" cy="329.1" r="2.4" fill="#e06030" fill-opacity="0.3" /><circle cx="507.3" cy="334.4" r="1.4" fill="#e06030" fill-opacity="0.3" /><circle cx="498.0" cy="343.8" r="1.0" fill="#1a1a90" fill-opacity="0.25" /><circle cx="511.2" cy="346.3" r="2.4" fill="#e06030" fill-opacity="0.3" /><circle cx="493.8" cy="338.3" r="2.4" fill="#1a1a90" fill-opacity="0.25" /><circle cx="498.3" cy="326.8" r="2.2" fill="#1a1a90" fill-opacity="0.25" /><circle cx="504.7" cy="352.3" r="1.0" fill="#e06030" fill-opacity="0.3" /><circle cx="503.0" cy="348.4" r="1.9" fill="#1a1a90" fill-opacity="0.25" /><circle cx="492.9" cy="352.4" r="2.4" fill="#1a1a90" fill-opacity="0.25" /><circle cx="479.8" cy="319.9" r="1.0" fill="#1a1a90" fill-opacity="0.25" /><circle cx="481.7" cy="349.0" r="2.0" fill="#1a1a90" fill-opacity="0.25" /><circle cx="498.5" cy="328.6" r="1.8" fill="#1a1a90" fill-opacity="0.25" /><circle cx="482.8" cy="323.3" r="1.6" fill="#e06030" fill-opacity="0.3" /><circle cx="499.0" cy="318.1" r="2.1" fill="#e06030" fill-opacity="0.3" /><circle cx="508.5" cy="346.1" r="1.0" fill="#1a1a90" fill-opacity="0.25" /><circle cx="478.5" cy="345.1" r="1.3" fill="#e06030" fill-opacity="0.3" /><circle cx="486.5" cy="342.6" r="1.5" fill="#1a1a90" fill-opacity="0.25" /><circle cx="492.2" cy="328.0" r="2.4" fill="#1a1a90" fill-opacity="0.25" /></g></g>
<rect x="475.8" y="360.5" width="42.2" height="38.3" fill="#000" stroke="none" stroke-width="1" />
<clipPath id="ic22"><rect x="475.8" y="360.5" width="42.2" height="38.3"/></clipPath>
<g clip-path="url(#ic22)"><g filter="url(#fI)"><rect x="471.8" y="356.5" width="50.2" height="46.3" fill="#000008"/><circle cx="497.9" cy="381.6" r="7.2" fill="#2430a0" fill-opacity="0.85" /><circle cx="506.6" cy="381.6" r="3.0" fill="#48b030" fill-opacity="0.35" /><circle cx="505.6" cy="385.6" r="3.0" fill="#48b030" fill-opacity="0.35" /><circle cx="503.0" cy="388.8" r="3.0" fill="#48b030" fill-opacity="0.35" /><circle cx="499.1" cy="390.6" r="3.3" fill="#48b030" fill-opacity="0.55" /><circle cx="494.7" cy="390.6" r="3.8" fill="#48b030" fill-opacity="0.8" /><circle cx="490.8" cy="388.8" r="4.1" fill="#48b030" fill-opacity="0.96" /><circle cx="488.2" cy="385.6" r="4.1" fill="#48b030" fill-opacity="1.0" /><circle cx="487.2" cy="381.6" r="4.0" fill="#48b030" fill-opacity="0.91" /><circle cx="488.2" cy="377.6" r="3.6" fill="#48b030" fill-opacity="0.71" /><circle cx="490.8" cy="374.4" r="3.1" fill="#48b030" fill-opacity="0.44" /><circle cx="494.7" cy="372.6" r="3.0" fill="#48b030" fill-opacity="0.35" /><circle cx="499.1" cy="372.6" r="3.0" fill="#48b030" fill-opacity="0.35" /><circle cx="503.0" cy="374.4" r="3.0" fill="#48b030" fill-opacity="0.35" /><circle cx="505.6" cy="377.6" r="3.0" fill="#48b030" fill-opacity="0.35" /><circle cx="514.6" cy="365.1" r="5.9" fill="#2030b0" fill-opacity="0.8" /></g></g>
<text x="21.4" y="288.8" font-size="15.7" font-weight="bold" fill="#d42a2a" text-anchor="start" >F4/80</text>
<text x="193.2" y="288.8" font-size="15.8" font-weight="bold" fill="#3f7f2a" text-anchor="start" >CD206</text>
<rect x="406.9" y="387.6" width="53.2" height="4.7" fill="#fff" stroke="none" stroke-width="1" />
<text x="359.2" y="288.8" font-size="15.7" font-weight="bold" fill="#e0904a" textLength="86.8" lengthAdjust="spacingAndGlyphs">Merge w/<tspan fill="#1c1c8c">DAPI</tspan></text>
</svg></body></html>
